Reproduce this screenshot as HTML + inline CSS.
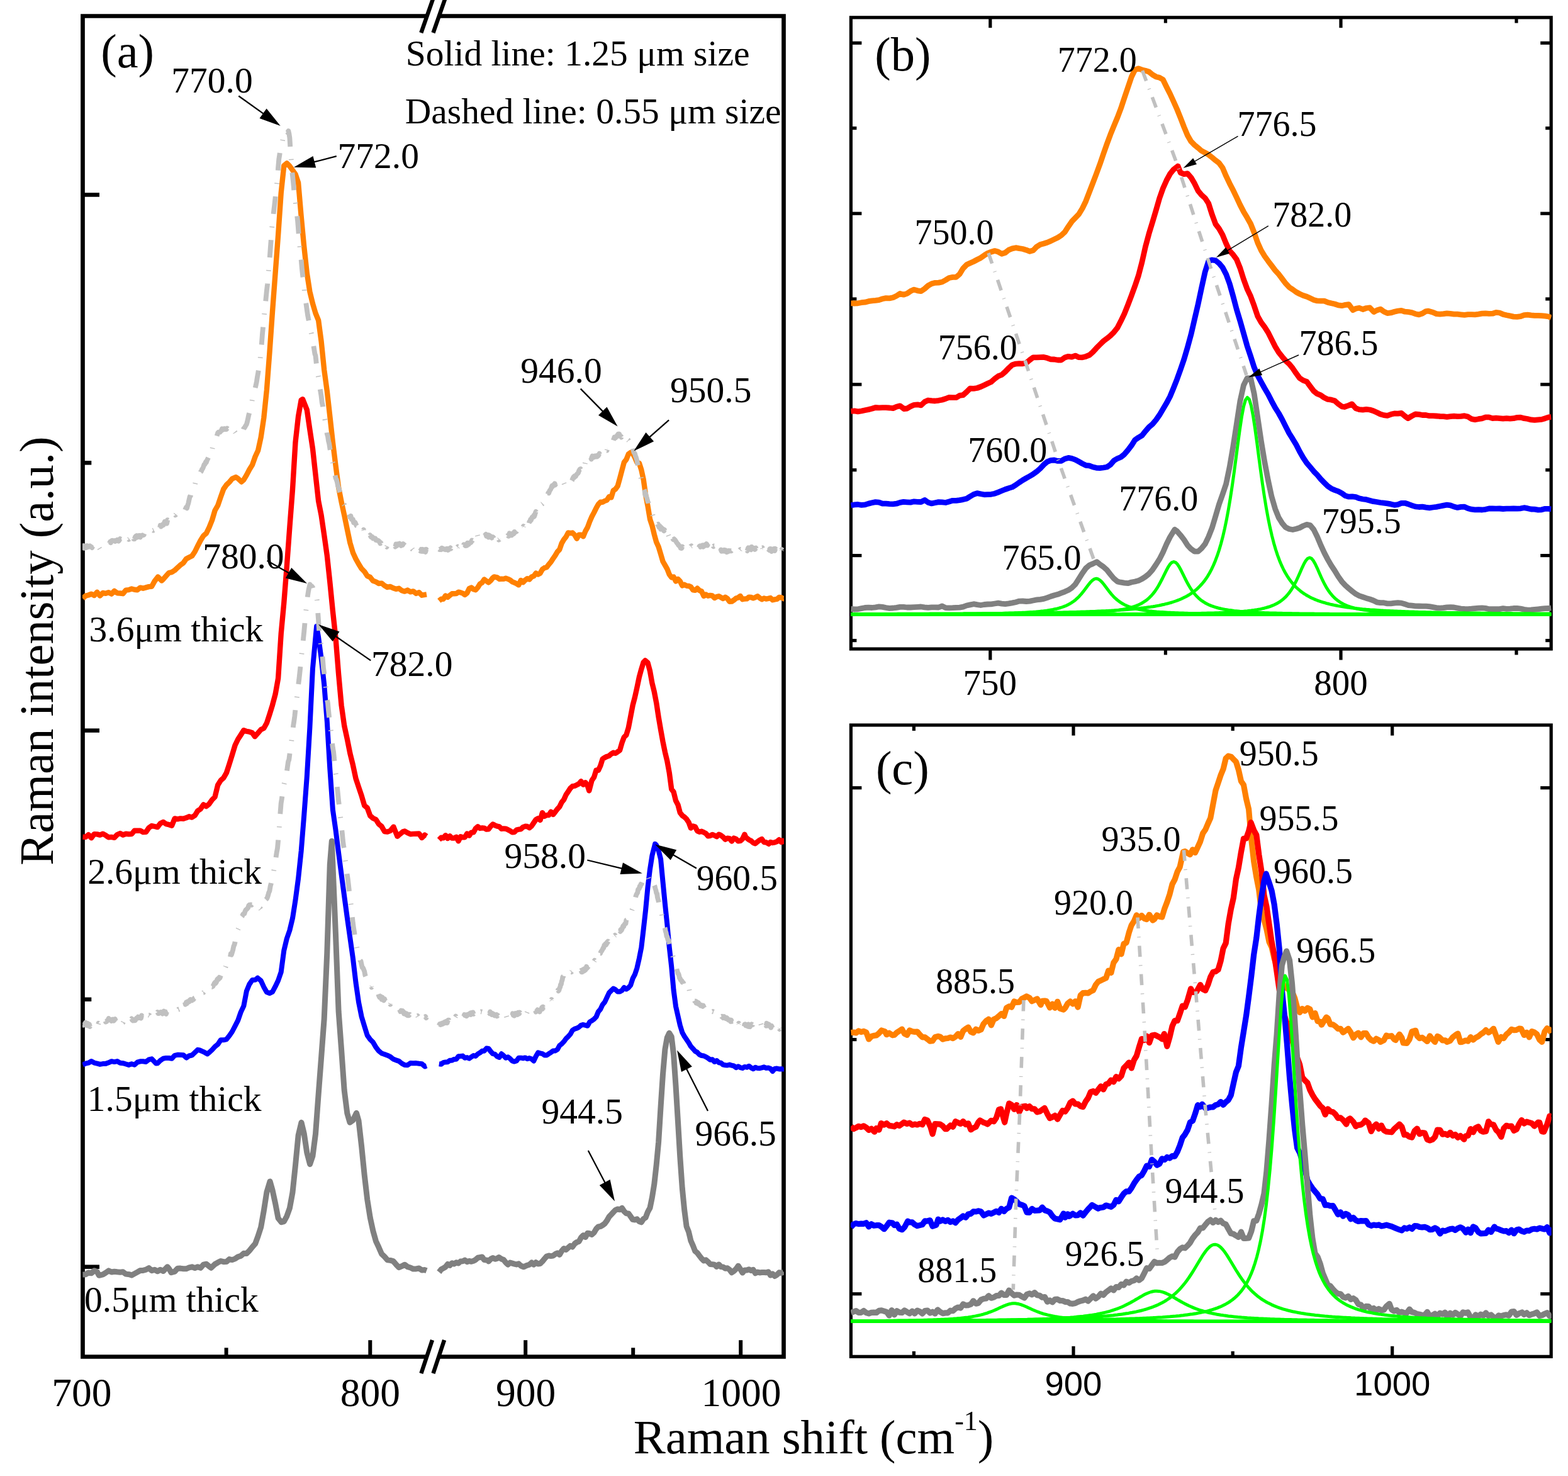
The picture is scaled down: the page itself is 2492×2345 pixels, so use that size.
<!DOCTYPE html>
<html lang="en"><head><meta charset="utf-8"><title>Raman spectra</title>
<style>html,body{margin:0;padding:0;background:#fff}svg{display:block}text{white-space:pre;font-family:"Liberation Serif",serif}text.ss{font-family:"Liberation Sans",sans-serif}</style></head>
<body>
<svg xmlns="http://www.w3.org/2000/svg" width="2492" height="2345" viewBox="0 0 2492 2345">
<rect width="2492" height="2345" fill="#fff"/>
<defs><clipPath id="ca"><rect x="131" y="25.5" width="1115" height="2130"/></clipPath>
<clipPath id="cb"><rect x="1351.9" y="27.8" width="1113.8" height="1003.2"/></clipPath>
<clipPath id="cc"><rect x="1351.9" y="1152" width="1113.8" height="1003.3"/></clipPath></defs>
<g id="panel-a-frame" stroke="#000" stroke-width="6.7" fill="none" stroke-linecap="butt">
<path d="M678.7,25.5 H131.5 V2155.5 H678.0 M697.4,2155.5 H1245.5 V25.5 H697.7" stroke-linejoin="miter"/>
<line x1="669.3" y1="52.1" x2="687.9" y2="-1.1000000000000014" stroke-width="6.4"/>
<line x1="688.5" y1="52.1" x2="707.1" y2="-1.1000000000000014" stroke-width="6.4"/>
<line x1="669.4" y1="2182.1" x2="687.0" y2="2128.9" stroke-width="6.4"/>
<line x1="688.5" y1="2182.1" x2="706.1" y2="2128.9" stroke-width="6.4"/>
<line x1="131.5" y1="309.5" x2="158" y2="309.5" stroke-width="6.5"/>
<line x1="131.5" y1="1160.6" x2="158" y2="1160.6" stroke-width="6.5"/>
<line x1="131.5" y1="2012.7" x2="158" y2="2012.7" stroke-width="6.5"/>
<line x1="131.5" y1="735.3" x2="145.3" y2="735.3" stroke-width="6.5"/>
<line x1="131.5" y1="1587.8" x2="145.3" y2="1587.8" stroke-width="6.5"/>
<line x1="588.3" y1="2155.5" x2="588.3" y2="2129.2" stroke-width="6"/>
<line x1="835.2" y1="2155.5" x2="835.2" y2="2129.2" stroke-width="6"/>
<line x1="1177.2" y1="2155.5" x2="1177.2" y2="2129.2" stroke-width="6"/>
<line x1="359.6" y1="2155.5" x2="359.6" y2="2141.3" stroke-width="6"/>
<line x1="1006.2" y1="2155.5" x2="1006.2" y2="2141.3" stroke-width="6"/>
</g>
<g id="panel-b-frame" stroke="#000" stroke-width="5.2" fill="none">
<rect x="1352.4" y="27.8" width="1112.8" height="1003.2"/>
<line x1="1352.4" y1="68.3" x2="1369.4" y2="68.3"/><line x1="2465.2" y1="68.3" x2="2448.2" y2="68.3"/>
<line x1="1352.4" y1="339.2" x2="1369.4" y2="339.2"/><line x1="2465.2" y1="339.2" x2="2448.2" y2="339.2"/>
<line x1="1352.4" y1="610.8" x2="1369.4" y2="610.8"/><line x1="2465.2" y1="610.8" x2="2448.2" y2="610.8"/>
<line x1="1352.4" y1="882.6" x2="1369.4" y2="882.6"/><line x1="2465.2" y1="882.6" x2="2448.2" y2="882.6"/>
<line x1="1352.4" y1="203.6" x2="1361.4" y2="203.6"/><line x1="2465.2" y1="203.6" x2="2456.2" y2="203.6"/>
<line x1="1352.4" y1="475" x2="1361.4" y2="475"/><line x1="2465.2" y1="475" x2="2456.2" y2="475"/>
<line x1="1352.4" y1="746.7" x2="1361.4" y2="746.7"/><line x1="2465.2" y1="746.7" x2="2456.2" y2="746.7"/>
<line x1="1352.4" y1="1017.6" x2="1361.4" y2="1017.6"/><line x1="2465.2" y1="1017.6" x2="2456.2" y2="1017.6"/>
<line x1="1573.8" y1="27.8" x2="1573.8" y2="44.2"/><line x1="1573.8" y1="1031.0" x2="1573.8" y2="1048.5"/>
<line x1="2131.0" y1="27.8" x2="2131.0" y2="44.2"/><line x1="2131.0" y1="1031.0" x2="2131.0" y2="1048.5"/>
<line x1="1852.4" y1="27.8" x2="1852.4" y2="36.6"/><line x1="1852.4" y1="1031.0" x2="1852.4" y2="1040.4"/>
<line x1="2410.0" y1="27.8" x2="2410.0" y2="36.6"/><line x1="2410.0" y1="1031.0" x2="2410.0" y2="1040.4"/>
</g>
<g id="panel-c-frame" stroke="#000" stroke-width="5.2" fill="none">
<rect x="1352.4" y="1152.0" width="1112.8" height="1003.3"/>
<line x1="1352.4" y1="1251.7" x2="1369.4" y2="1251.7"/><line x1="2465.2" y1="1251.7" x2="2448.2" y2="1251.7"/>
<line x1="1352.4" y1="2055.7" x2="1369.4" y2="2055.7"/><line x1="2465.2" y1="2055.7" x2="2448.2" y2="2055.7"/>
<line x1="1352.4" y1="1651.6" x2="1361.4" y2="1651.6"/><line x1="2465.2" y1="1651.6" x2="2456.2" y2="1651.6"/>
<line x1="1706.0" y1="1152.0" x2="1706.0" y2="1168.6"/><line x1="1706.0" y1="2155.3" x2="1706.0" y2="2138.8"/>
<line x1="2212.7" y1="1152.0" x2="2212.7" y2="1168.6"/><line x1="2212.7" y1="2155.3" x2="2212.7" y2="2138.8"/>
<line x1="1452.4" y1="1152.0" x2="1452.4" y2="1161.0"/><line x1="1452.4" y1="2155.3" x2="1452.4" y2="2146.8"/>
<line x1="1959.2" y1="1152.0" x2="1959.2" y2="1161.0"/><line x1="1959.2" y1="2155.3" x2="1959.2" y2="2146.8"/>
</g>
<g id="panel-a-curves" clip-path="url(#ca)" fill="none" stroke-linejoin="round">
<path d="M131.5,950.7 136.1,946.6 140.6,945.5 145.2,943.6 149.8,946 154.3,940.8 158.9,946.5 163.5,942 168,942.8 172.6,941.2 177.2,943.6 181.7,938.8 186.3,942.2 190.9,942.5 195.5,943.2 200,937.6 204.6,937.1 209.2,935.5 213.7,936.7 218.3,937.2 222.9,933.6 227.4,934.7 232,933.4 236.6,932.1 241.1,931.7 245.7,923.4 251,916.5 257,922.6 259.4,920.2 264,915 268.5,910 273.1,909.1 277.7,906.1 282.2,901.8 286.8,897.7 291.4,894.3 295.9,888 300.5,885.5 305.1,883.3 309.7,876.5 314.2,867.4 318.8,858.5 323.4,851.1 327.9,847.3 332.5,837.7 337.1,826.2 341.6,811 346.2,803 350.8,789.5 355.3,777 359.9,770.4 364.5,766 369,760.6 374.8,758 378.2,760.2 383.8,765.5 387.3,762.3 391.9,754.6 396.4,746 401,738.6 405.6,725.5 410.1,715.8 414.7,694.7 419.3,664 423.9,619.4 428.4,560.7 433,495.1 437.6,433.6 442.1,373.7 446.7,306.6 451.3,263.2 455.8,259.3 460.4,264 465,270.4 469.5,276.6 474.1,290.3 478.7,344 483.2,391.4 487.8,434 492.4,463.4 496.9,482 501.5,497.6 506.1,508.9 510.6,542.4 515.2,587.5 519.8,621.2 524.3,661.2 528.9,702.7 533.5,739.6 538.1,774.4 542.6,797.4 547.2,818.6 551.8,840.9 556.3,862.4 560.9,877.9 565.5,887.9 570,896.1 574.6,903.4 579.2,908.1 583.7,915.1 588.3,917 592.9,922.8 597.4,924.4 602,927 606.6,926.6 611.1,930.4 615.7,933 620.3,931.9 624.8,934.2 629.4,935.9 634,934.8 638.5,938.3 643.1,939.6 647.7,937.6 652.3,940.4 656.8,939.4 661.4,942.9 666,941.3 670.5,945.7 675.1,944.8 678,944.3" stroke="#ff8000" stroke-width="8.4" />
<path d="M697.8,954.6 701.2,951.8 704.6,951.8 708.1,946.4 711.5,948.8 714.9,945.8 718.3,943.3 721.7,943.2 725.2,943.1 728.6,940.6 732,941.4 735.4,942.6 738.8,944.9 742.3,942.1 745.7,935.1 749.1,933.5 752.5,936.3 755.9,937.2 759.4,933.2 762.8,927.8 766.2,925.6 769.6,920.5 773,923.1 776.5,925.4 779.9,922.4 783.3,917.9 785.3,916.5 790.1,917.3 793.6,920 797,919.8 800.4,919.9 803.8,918.7 807.2,919.9 810.7,921.5 814.1,924.3 817.5,925.6 820.9,927.2 824.3,929.4 827.8,922 831.2,925.4 834.6,921.7 838,919.3 841.4,920.5 844.9,916.4 848.3,915.3 851.7,910.7 855.1,912.6 858.5,910.8 862,904.5 865.4,902.1 868.8,901.2 872.2,896.7 875.6,892.8 879.1,887.3 882.5,882.4 885.9,876.6 889.3,873 892.7,863.1 896.2,857.1 899.6,852.9 903,846.4 907.6,847.1 909.8,846.4 913.3,849.9 916.7,855.7 920.1,849.7 923.5,849.6 926.9,852.3 930.4,843.8 933.8,837.9 937.2,828.6 940.6,820.8 944,814.4 947.5,807.3 950.9,801.2 954.3,797.8 957.7,797.7 961.1,795.9 964.6,794.6 968,789.3 971.4,790.4 974.8,779.3 978.2,777.1 981.7,772.1 985.1,759.9 988.5,747 991.9,734.4 995.3,730.2 998.8,721.5 1002.7,718.7 1005.6,720.7 1009,726.8 1012.4,734.9 1015.9,735.8 1019.3,746.4 1022.7,762 1026.1,786.2 1029.5,803.9 1033,824.9 1036.4,835.1 1039.8,849.1 1043.2,861.3 1046.6,868.8 1050.1,880.4 1053.5,892 1056.9,897.9 1060.3,903.8 1063.7,912.6 1067.2,917.4 1070.6,916.5 1074,923.5 1077.4,919.9 1080.8,923.4 1084.3,930.5 1087.7,928.8 1091.1,930.7 1094.5,931 1097.9,932.4 1101.4,937.4 1104.8,937.9 1108.2,934.7 1111.6,938.1 1115,939.5 1118.5,947 1121.9,944.5 1125.3,946.7 1128.7,945.9 1132.1,946.5 1135.6,950 1139,948.1 1142.4,947.2 1145.8,949.1 1149.2,951.1 1152.7,948.7 1156.1,951 1159.5,955.8 1162.9,955.6 1166.3,953.4 1169.8,950.5 1173.2,949.5 1176.6,947 1180,952.2 1183.4,951.5 1186.9,951.4 1190.3,948.6 1193.7,949 1197.1,950.4 1200.5,949.1 1204,947.3 1207.4,950.1 1210.8,952.2 1214.2,950.4 1217.6,951.6 1221.1,950.9 1224.5,950 1227.9,953.3 1231.3,952.4 1234.7,951.9 1238.2,949 1241.6,949.3 1245,951.1 1245.5,950.5" stroke="#ff8000" stroke-width="8.4" />
<path d="M131.5,1329.6 136.1,1329.9 140.6,1326.1 145.2,1331.3 149.8,1325.1 154.3,1325.4 158.9,1326.6 163.5,1324.7 168,1327.2 172.5,1330.3 177.2,1329.9 181.7,1330.8 186.3,1326 190.9,1324 195.5,1326.5 200,1324.8 204.6,1325.3 209.2,1325.1 213.7,1319.8 218.3,1319.8 222.9,1319.6 227.4,1322.1 232,1321.9 236.6,1315.1 241.1,1312 245.7,1313 250.3,1314.1 254.8,1308.2 259.4,1305.9 264,1309.2 268.5,1310.2 273.1,1311.7 277.7,1300.4 282.2,1301.4 286.8,1300.4 291.4,1300.8 295.9,1299.3 300.5,1297.3 305.1,1298.6 309.7,1295.6 314.2,1288.2 318.8,1285.2 323.4,1278.4 327.9,1281.1 332.5,1277.2 337.1,1270.6 341.6,1266.1 346.2,1247.3 350.8,1239.9 355.3,1235.8 359.9,1227.9 364.5,1213.8 369,1199.2 373.6,1184 378.2,1174.5 382.7,1167.6 387.3,1160.2 391.9,1161.9 396.4,1162.7 401,1164.3 405,1170.2 410.1,1164.5 414.7,1159.1 419.3,1157 423.9,1148.7 428.4,1135.1 433,1120.2 437.6,1102.9 442.1,1077.7 446.7,1006.9 451.3,957.3 455.8,900.2 460.4,837.4 465,777.4 469.5,702.6 474.1,661.5 478.7,635.6 481.1,634.2 487.8,651.1 492.4,682.6 496.9,712.3 501.5,754.1 506.1,795.9 510.6,818.6 515.2,850 519.8,882.6 524.3,924.7 528.9,971 533.5,1013.5 538.1,1071 542.6,1120.5 547.2,1153 551.8,1174.2 556.3,1196.8 560.9,1215.3 565.5,1236.9 570,1250.5 574.6,1264.1 579.2,1279.8 583.7,1283.5 588.3,1296 592.9,1300 597.4,1302.1 602,1309.3 606.6,1313.1 611.1,1321 615.7,1321.6 620.3,1319.8 625.4,1313.6 631.5,1328.7 634,1326.6 640.5,1321.2 643.1,1320.5 647.7,1323.1 652.3,1325.3 656.8,1324.9 661.4,1324.7 666,1324.5 670.5,1331 675.1,1326.6 678,1328.6" stroke="#ff0000" stroke-width="8.4" />
<path d="M697.8,1334.2 701.2,1330.7 704.6,1331.4 708.1,1327.1 711.5,1332 714.9,1328.2 718.3,1331.6 721.7,1331.5 725.2,1329.8 728.6,1336.3 732,1329.2 735.4,1330.3 738.8,1330.2 742.3,1324.4 745.7,1327.6 749.1,1322.6 752.5,1322.4 755.9,1316.2 759.4,1313.3 762.8,1316 766.2,1315.3 769.6,1315.7 773,1317.6 776.5,1317.3 779.9,1312.7 783.3,1309.5 786.7,1311.3 790.1,1312.7 793.6,1313.4 797,1316.8 800.4,1316.4 803.8,1316.7 807.2,1318.2 810.7,1320 814.1,1322.2 817.5,1322 820.9,1318.6 824.3,1317.7 827.8,1317.3 831.2,1314.1 834.6,1312.8 838,1313 841.4,1315.2 844.9,1312.3 848.3,1307.1 851.7,1302.1 855.1,1300.3 858.5,1303 862,1291.2 865.4,1296.9 868.8,1295.1 872.2,1295.1 875.6,1289.7 879.1,1294 882.5,1289.8 885.9,1285.3 889.3,1281.6 892.7,1274.6 896.2,1270.3 899.6,1262.6 903,1257.6 906.4,1252.4 909.8,1249.2 913.3,1248.7 916.7,1247 920.1,1245.2 923.5,1241.3 926.9,1246.6 930.4,1243.1 933.8,1248.4 936.3,1256.3 940.6,1239.8 944,1234.9 947.5,1223.8 950.9,1223.9 954.3,1216.5 957.7,1205.7 961.1,1203.6 964.6,1201.9 968,1200.8 971.4,1197.9 974.8,1195.7 978.2,1196.7 981.7,1194.4 985.1,1191.8 988.5,1180.1 991.9,1171.1 995.3,1167.7 998.8,1156.3 1002.2,1138.4 1005.6,1120.6 1009,1107.6 1012.4,1092.3 1015.9,1075.7 1019.3,1063.2 1022.7,1052.1 1025.4,1049.4 1029.5,1053 1033,1066.2 1036.4,1085.2 1039.8,1099.1 1043.2,1116.7 1046.6,1139.2 1050.1,1159.5 1053.5,1178.3 1056.9,1194.9 1060.3,1208.9 1063.7,1227.4 1067.2,1253.7 1070.6,1258.3 1074,1272.1 1077.4,1278.4 1080.8,1291.2 1084.3,1295.7 1087.7,1298 1091.1,1301.3 1094.5,1306.3 1097.9,1315.5 1101.4,1312.5 1104.8,1313.5 1108.2,1320.1 1111.6,1321.7 1115,1320.8 1118.5,1322.4 1121.9,1324.2 1125.3,1328.3 1128.7,1327.8 1132.1,1325.9 1135.6,1327.3 1139,1329.2 1142.4,1325.7 1145.8,1327.2 1149.2,1329.9 1152.7,1333.7 1156.1,1331.6 1159.5,1332.1 1162.9,1336.5 1166.3,1331.6 1169.8,1332.9 1173.2,1336.4 1176.6,1335.9 1180,1333.1 1183.4,1325.7 1185.4,1330.3 1190.3,1334.3 1193.7,1335.9 1197.1,1339 1200.5,1340.2 1204,1337.1 1207.4,1334.7 1210.8,1333 1214.2,1338 1217.6,1338.2 1221.7,1340.8 1224.5,1337.9 1227.9,1339 1231.3,1338.3 1234.7,1337.1 1238.2,1334.2 1241.6,1338 1245,1336.9 1245.5,1331.6" stroke="#ff0000" stroke-width="8.4" />
<path d="M131.5,2024.9 136.1,2024.8 140.6,2021.9 145.2,2022.7 149.8,2018.8 154.3,2020.6 157.4,2026.3 163.5,2024.8 168,2022.1 172.6,2018.9 177.2,2021 181.7,2020.2 186.3,2020.8 190.9,2021.2 195.5,2020.8 200,2024.1 205.7,2024.8 209.2,2026 213.7,2023.6 218.3,2021.1 222.9,2018.5 227.4,2018.4 232,2017.2 236.6,2014.6 241.1,2018.6 245.7,2017.3 250.3,2019.8 254.8,2017.2 259.4,2019.5 266.1,2012.7 268.5,2015.4 272.1,2021.8 277.7,2020.1 282.2,2015.2 286.8,2015.1 291.4,2015.7 295.9,2015.8 300.5,2013.9 305.1,2012.8 309.7,2014.6 314.2,2012.7 318.8,2014.4 323.4,2009.1 328,2008.2 332.5,2011.9 335.5,2014.3 341.6,2008.5 346.2,2005.8 350.8,2003.5 355.3,2004.7 359.9,2004.6 364.5,2000.6 369,2001.6 373.6,1999.9 378.2,1996.7 382.7,1995.4 387.3,1991.3 391.9,1991.4 396.4,1987.1 401,1981.2 405.6,1976.1 410.1,1963.9 414.7,1949.6 419.3,1923.6 423.9,1894.1 429.1,1876.9 433,1890.8 437.6,1912 442.1,1935.5 447.3,1941.8 451.3,1940.6 455.8,1932.3 460.4,1919.5 465,1894.4 469.5,1851.4 474.1,1803.9 479,1783.3 483.2,1800.7 487.8,1831.4 492.6,1849.7 496.9,1836.8 501.5,1801.7 506.1,1739 510.6,1680.2 515.2,1618.6 519.8,1513.8 524.3,1373.5 527.3,1336.3 533.5,1485.5 538.1,1606.7 542.6,1667.6 547.2,1732.3 551.8,1768.8 556,1783.3 560.9,1779.8 566.5,1768.2 570,1780.4 574.6,1820.9 579.2,1866.7 583.7,1905.6 588.3,1934.6 592.9,1955.7 597.4,1971.8 602,1981.7 606.6,1992.3 611.1,1996.6 615.7,2001.8 620.3,2002.4 624.8,2003.6 629.4,2008.8 634,2013.7 638.5,2011.7 643.1,2009.2 647.7,2012.7 652.3,2014 656.8,2016.1 661.4,2015.9 666,2015 670.5,2018 675.1,2017.6 678,2018.7" stroke="#808080" stroke-width="9.0" />
<path d="M697.8,2021.1 701.2,2016.8 704.6,2014.9 708.1,2012.8 711.5,2008.4 714.9,2010.4 718.3,2006.7 721.7,2008.1 725.2,2005.7 728.6,2007 732,2004 735.4,2003.7 738.8,2002.1 742.3,2004.7 745.7,2003.4 749.1,2004.3 752.5,2003.2 755.9,2001.4 759.4,1998.2 762.7,1997.6 766.2,1997 769.6,2001.6 774.7,2002.2 776.5,2003.9 779.9,2000.3 783.3,1998.6 786.7,2000.3 790.1,1999.4 792.9,1997.6 797,2000.2 800.4,2001.4 803.8,2005.8 807.2,2009.1 810.7,2006.1 814.1,2007.1 817.5,2008.1 820.9,2008.9 824.3,2007.9 827.8,2011 832.1,2012.7 834.6,2011.7 838,2010.2 841.4,2009.1 844.9,2006 848.3,2009.1 851.7,2005.7 855.1,2008 858.5,2007.5 862,2004.1 865.4,1999.9 868.8,1996 872.2,1995 875.6,1995.6 879.1,1995.1 882.5,1992.4 885.9,1990.9 889.3,1993.4 892.7,1987.5 896.2,1983.6 899.6,1985.4 903,1982.3 906.4,1979.3 909.8,1981 913.3,1976 916.7,1973.5 920.1,1972.4 923.5,1966.2 926.9,1962.7 930.4,1965.6 933.8,1959.2 937.2,1959.8 940.6,1961.5 944,1958.5 947.5,1952.5 950.9,1949 954.3,1948.5 957.7,1946.5 961.1,1944 964.6,1939.3 968,1933.2 971.4,1929.6 974.8,1925.9 978.2,1922.4 981.7,1921 985.1,1921.8 988.5,1919.3 991.9,1924.5 995.3,1927.7 998.8,1927.9 1002.2,1932.7 1005.6,1937.6 1009,1937.9 1012.4,1936.9 1015.9,1940.5 1019.3,1941.8 1022.7,1936.5 1026.1,1934.4 1029.5,1925.4 1033,1919 1036.4,1902.4 1039.8,1881.3 1043.2,1850.7 1046.6,1814.6 1050.1,1758.1 1053.5,1706.7 1056.9,1667.3 1060.3,1648.4 1063.7,1641.3 1067.2,1647.1 1070.6,1675.6 1074,1724.6 1077.4,1781 1080.8,1838.1 1084.3,1887.8 1087.7,1922.4 1091.1,1948.5 1094.5,1957 1097.9,1971.2 1101.4,1979.1 1104.8,1987.8 1108.2,1990.5 1111.6,1995.1 1115,1999.5 1118.5,2002.9 1121.9,2001.8 1125.3,2004.8 1128.7,2008.5 1132.1,2008.8 1135.6,2009.2 1139,2012.4 1142.4,2008.9 1145.8,2012.6 1149.2,2012.9 1152.7,2015.2 1156.1,2014.7 1159.5,2017.3 1162.9,2021.7 1166.3,2019.5 1169.8,2016.1 1173.3,2011.2 1176.6,2016.2 1180,2022.1 1183.4,2017.9 1186.9,2017.9 1190.3,2016.7 1193.7,2018.6 1197.1,2017.3 1200.5,2022.8 1204,2021 1207.4,2021.9 1210.8,2021.6 1214.2,2021.6 1217.6,2021.8 1221.1,2020.7 1224.5,2026.1 1227.9,2023.9 1231.3,2027.5 1234.7,2025.4 1238.2,2021.8 1241.6,2022.4 1245,2021.4 1245.5,2021" stroke="#808080" stroke-width="9.0" />
<path d="M131.5,1691.7 136.1,1689.7 140.6,1688.7 145.2,1686.1 149.8,1688.6 154.3,1689.6 158.9,1690.9 163.5,1690.1 168,1689.9 172.6,1688.3 177.2,1686.2 181.7,1687.1 186.3,1686.1 190.9,1688.7 195.5,1689.2 200,1690.5 204.6,1691.9 209.2,1690.3 213.7,1691.7 218.3,1687.7 222.9,1686.3 227.4,1686.3 232,1687 236.6,1683.3 241.1,1682.3 248,1689.6 250.3,1689.3 254.8,1684.9 259.4,1681.8 264,1680.9 268.5,1681 273.1,1681.7 277.7,1676.8 282.2,1675.8 286.8,1675.9 291.4,1676.2 296.3,1680.6 300.5,1677.5 305.1,1676.5 309.7,1672.2 314.2,1667.8 317.4,1668.5 323.4,1671.1 329.5,1674.5 332.5,1672.2 337.1,1667.9 341.6,1662.9 346.2,1659.2 350.8,1652.3 355.3,1652.3 359.9,1651.3 364.5,1645.6 369,1639 373.6,1630.2 378.2,1621.1 382.7,1608.1 387.3,1598.4 391.9,1574.6 396.4,1563.6 401,1557 405.6,1556.8 409.5,1553.7 414.7,1558.1 419.3,1568.2 423.9,1576.3 428.4,1578 433,1575.9 437.6,1567.2 442.1,1557.7 446.7,1544.4 451.3,1510 455.8,1491.2 460.4,1478 465,1458.8 469.5,1430.2 474.1,1395.6 478.7,1351.8 483.2,1295.7 487.8,1233.7 492.4,1155.8 496.9,1063 503.1,995 506.1,1012.2 510.6,1046 515.2,1087.5 519.8,1146.3 524.3,1221.3 528.9,1286.6 533.5,1318.8 538.1,1354.9 542.6,1389.6 547.2,1423.9 551.8,1457.9 556.3,1489.8 560.9,1522.2 565.5,1561.1 570,1592.3 574.6,1615.1 579.2,1630.4 583.7,1644.9 588.3,1651.4 592.9,1655.9 597.4,1663.8 602,1669.7 606.6,1673.5 611.1,1675 615.7,1676.7 620.3,1678.8 624.8,1682.5 629.4,1684.4 634,1685.8 638.5,1689.5 643.1,1692.1 647.7,1692.3 652.3,1689 656.8,1689.3 661.4,1689.1 666,1689.8 670.5,1690.2 675.1,1694.4 678,1693.3" stroke="#0000ff" stroke-width="8.0" />
<path d="M697.8,1690.2 701.2,1690.7 704.6,1688.1 708.1,1687.4 711.5,1687.3 714.9,1684.8 718.3,1684.7 721.7,1682.9 725.2,1682.7 728.6,1678.3 732,1678 735.4,1677.6 738.8,1680.7 742.3,1680.1 745.7,1681.6 749.1,1679.3 752.5,1677 755.9,1677.9 759.4,1674.5 762.8,1672.6 766.2,1669.8 769.6,1669.7 773.2,1665.5 776.5,1666 779.9,1670.5 783.3,1674.2 786.7,1674.9 790.1,1678.6 793.6,1679.9 797,1674.3 800.4,1677.1 803.8,1680.8 807.2,1679.3 810.7,1681.9 814.1,1685.5 817,1686.6 820.9,1685.5 824.3,1680.7 827.8,1680.7 831.2,1681.4 834.6,1680.4 838,1682.2 841.4,1681.1 844.9,1682.5 848.3,1685.5 851.7,1678.3 855.1,1672.4 858.5,1673.4 862,1674.1 865.4,1676.5 868.8,1676.6 872.2,1674.2 875.6,1672.1 879.1,1669.6 882.5,1669.4 885.9,1667.3 889.3,1661.1 892.7,1658.5 896.2,1654.8 899.6,1650.2 903,1646.8 906.4,1643.1 909.8,1636.8 913.3,1634.6 916.7,1633.6 920.1,1631.9 923.5,1628.8 926.9,1628 930.4,1628.9 933.8,1629.8 937.2,1623.7 940.6,1621.6 944,1619.3 947.5,1615.6 950.9,1607.4 954.3,1603.4 957.7,1596.1 961.1,1592.2 964.6,1584.6 968,1577.4 971.4,1573.9 974.8,1570.6 978.2,1572.4 981.7,1575.6 985.1,1575.5 988.5,1573.6 991.9,1568.9 995.3,1571.5 998.8,1569.3 1002.2,1565.2 1005.6,1554.7 1009,1548.2 1012.4,1537.9 1015.9,1522.6 1019.3,1505.3 1022.7,1476.3 1026.1,1445.7 1029.5,1409.7 1033,1381.1 1036.4,1359.3 1041.1,1340.8 1043.2,1342.7 1046.6,1351.2 1050.1,1365.1 1053.5,1400.8 1056.9,1435.8 1060.3,1468.1 1063.7,1504.5 1067.2,1535.7 1070.6,1573.3 1074,1598.8 1077.4,1613.8 1080.8,1628.9 1084.3,1640.3 1087.7,1646.5 1091.1,1651.5 1094.5,1656.6 1097.9,1662.4 1101.4,1666.2 1104.8,1670.1 1108.2,1671.9 1111.6,1675.5 1115,1677 1118.5,1677.5 1121.9,1679.1 1125.3,1681.2 1128.7,1683.7 1132.1,1683.2 1135.6,1687 1139,1685 1142.4,1688.2 1145.8,1688.7 1149.2,1691.6 1152.7,1692.2 1156.1,1692.5 1159.5,1691.6 1162.9,1692.7 1166.3,1693.5 1169.8,1696.2 1173.2,1694.2 1176.6,1696.1 1180,1697 1183.4,1694.9 1186.9,1695.7 1190.3,1693.7 1193.7,1696.4 1197.1,1698.2 1200.5,1695.7 1204,1697.1 1207.4,1697.2 1210.8,1696.3 1214.2,1695.3 1217.6,1696.9 1221.1,1696.5 1224.5,1697.7 1227.9,1702 1231.3,1697.9 1234.7,1697.5 1238.2,1698.4 1241.6,1698.2 1245,1698.4 1245.5,1696.2" stroke="#0000ff" stroke-width="8.0" />
<path d="M131.5,868.1 132.6,867.2 133.8,870.7 134.9,867.5 136.1,868 137.2,870 138.4,867 139.5,867.6 140.6,868.7 141.8,868.3 142.9,867.4 144.1,868.8 145.2,868.8 146.3,870.2 147.5,867.6 148.6,869 149.8,871.5 150.9,872.6 152.1,868.5 153.2,871.4 154.3,869.5 155.5,869.8 156.6,869.9 157.8,870.6 158.9,872.4 160.1,872.1 161.2,871.1 162.3,870.2 163.5,870.1 164.6,869.3 165.8,869.6 166.9,867 168,866.8 169.2,865.7 170.3,864.7 171.5,864.1 172.6,863 173.8,863.5 174.9,860.9 176,862.2 177.2,859.3 178.3,858.6 179.5,859.1 180.6,859.2 181.7,859 182.9,860.1 184,859.7 185.2,858.8 186.3,857.6 187.5,857.8 188.6,859.6 189.7,858 190.9,856 192,856.7 193.2,856.7 194.3,858.8 195.5,857.1 196.6,860 197.7,857.9 198.9,857.1 200,856.3 201.2,857.9 202.3,856.3 203.4,855.4 204.6,857 205.7,856.1 206.9,857.4 208,855.5 209.2,851.7 210.3,856 211.4,852.4 212.6,856.3 213.7,856.3 214.9,853.1 216,851.8 217.1,851.1 218.3,853.6 219.4,851.8 220.6,850.9 221.7,850.9 222.9,853.4 224,850.8 225.1,850.8 226.3,850.4 227.4,850.3 228.6,849.9 229.7,847.2 230.9,847.3 232,846.2 233.1,845.8 234.3,847.6 235.4,845.1 236.6,845.2 237.7,843.9 238.8,843.5 240,844.7 241.1,842.7 242.3,842.1 243.4,842.8 244.6,842.2 245.7,842 246.8,840.7 248,837.7 249.1,840.1 250.3,839.4 251.4,839.4 252.6,836.5 253.7,840 254.8,834.7 256,836.5 257.1,835 258.3,833.5 259.4,834.4 260.5,832.2 261.7,828.7 262.8,829.3 264,830.4 265.1,831.7 266.3,826.1 267.4,826.9 268.5,827.8 269.7,825.8 270.8,823.6 272,821.3 273.1,820 274.2,820.3 275.4,819.9 276.5,816.7 277.7,816.6 278.8,818.3 280,816.8 281.1,815.7 282.2,815.6 283.4,814.6 284.5,816.2 285.7,816.6 286.8,816.6 288,814.4 289.1,813.8 290.2,814.1 291.4,813.8 292.5,812.7 293.7,811.6 294.8,808.4 295.9,806.1 297.1,807.4 298.2,803.1 299.4,799.4 300.5,794.1 301.7,789 302.8,787.9 303.9,782.5 305.1,777 306.2,776 307.4,773.3 308.5,771 309.7,770.8 310.8,765.7 311.9,761.9 313.1,761.4 314.2,758.4 315.4,757.7 316.5,755.2 317.6,753.2 318.8,749.9 319.9,748.9 321.1,745.5 322.2,744.5 323.4,741.3 324.5,738 325.6,737.8 326.8,734.1 327.9,734.6 329.1,731.1 330.2,728.9 331.4,726.1 332.5,723.6 333.6,718.3 334.8,720.4 335.9,715.3 337.1,714.6 338.2,709.5 339.3,706.9 340.5,703.5 341.6,699.2 342.8,697.1 343.9,694.9 345.1,691.1 346.2,687.7 347.3,686.7 348.5,686.5 349.6,686.6 350.8,685.2 351.9,683.6 353,681.2 354.2,682.9 355.3,681.3 356.7,681 357.6,682.2 358.8,682.1 359.9,682.2 361,680.5 362.2,681.6 363.3,680.7 364.5,683.6 365.6,684 366.8,685.7 367.9,685.3 369,685.2 370.2,688.8 371.3,685.4 372.5,685.5 373.6,686.8 374.7,688.6 375.9,687.8 377,687.9 377.8,688.5 379.3,689.9 380.5,686.8 381.6,685.5 382.7,685.8 383.9,683.9 385,683.5 386.2,684.2 387.3,680.7 388.4,679.8 389.6,677.9 390.7,675.9 391.9,674.1 393,670 394.2,664.7 395.3,659.4 396.4,655.6 397.6,651.8 398.7,645.8 399.9,640.9 401,634.1 402.2,633 403.3,625.1 404.4,620.5 405.6,616.6 406.7,611.8 407.9,606.2 409,598.9 410.1,592.9 411.3,585.5 412.4,576.3 413.6,569.7 414.7,558.3 415.9,545.4 417,530.5 418.1,519.5 419.3,507.3 420.4,495.9 421.6,484.9 422.7,473.3 423.9,461.3 425,452.1 426.1,437.7 427.3,426.6 428.4,413.8 429.6,396.6 430.7,381.9 431.8,365.1 433,353.2 434.1,343.7 435.3,333.8 436.4,324.7 437.6,313.6 438.7,304.2 439.8,294.3 441,282.8 442.1,266.2 443.3,252.7 444.4,245.9 445.5,236.1 446.7,232.7 447.8,226.4 449,224 450.1,218.2 451.3,216.8 452.4,212.2 453.5,212.8 454.7,212.6 455.8,208 457,210.3 458.4,208.1 459.3,211.8 460.4,219 461.5,236.8 462.7,252.5 463.8,268.8 465,279.2 466.1,289.7 467.2,302.2 468.4,309.9 469.5,321 470.7,329.1 471.8,339.8 473,350.2 474.1,364 475.2,379.8 476.4,390.4 477.5,402.8 478.7,413 479.8,425.9 481,437.2 482.1,443.9 483.2,454.6 484.4,468.8 485.5,476.1 486.7,484.3 487.8,492.3 488.9,500 490.1,506.3 491.2,511.4 492.4,520.5 493.5,524 494.7,528.9 495.8,535.3 496.9,542 498.1,548 499.2,554.7 500.4,562.3 501.5,565.1 502.6,575.8 503.8,585.6 504.9,592.9 506.1,599.1 507.2,606.9 508.4,616.8 509.5,622.5 510.6,629.5 511.8,639.9 512.9,644.5 514.1,653.2 515.2,659.6 516.4,666.9 517.5,672.8 518.6,679.9 519.8,689.3 520.9,692.9 522.1,700.8 523.2,705 524.3,712.2 525.5,718.3 526.6,722.1 527.8,731.3 528.9,735.3 530.1,742.5 531.2,745.2 532.3,752.7 533.5,759.6 534.6,761.8 535.8,765.5 536.9,771.2 538.1,774.9 539.2,778.4 540.3,782.4 541.5,785.6 542.6,790.4 543.8,792.8 544.9,795.5 546,800.6 547.2,802.2 548.3,808 549.5,806.7 550.6,808.4 551.8,810.8 552.9,814 554,814.7 555.2,816 556.3,821.5 557.5,819.8 558.6,825 559.8,825 560.9,825.2 562,830.2 563.2,829.4 564.3,829.8 565.5,832.5 566.6,835.2 567.7,835.6 568.9,836.9 570,839.1 571.2,838.2 572.3,839.5 573.5,839.7 574.6,839.1 575.7,841.7 576.9,844.9 578,841.6 579.2,846.3 580.3,845.9 581.4,845.3 582.6,847.3 583.7,850.3 584.9,848.2 586,850.7 587.2,851.9 588.3,850.2 589.4,852.9 590.6,853.6 591.7,853.1 592.9,855.4 594,854.8 595.2,855.4 596.3,855.3 597.4,858.1 598.6,857.9 599.7,858.6 600.9,858.7 602,859.3 603.1,860.8 604.3,863.5 605.4,862.4 606.6,865.9 607.7,865.2 608.9,865.5 610,864.3 611.1,868.7 612.3,864.7 613.4,867.4 614.6,868.8 615.7,866.4 616.8,865.7 618,866.5 619.1,867.6 620.3,868.1 621.4,867.1 622.6,864.9 623.7,865.3 624.8,866.3 626,864.4 627.1,865.6 628.3,868.6 629.4,864.4 630.6,867.1 631.7,864.4 632.8,865.1 634,865.3 635.1,863.5 636.3,865.2 637.4,866.9 638.5,866.1 639.7,866.1 640.8,864.2 642,865.3 643.1,866.1 644.3,867.2 645.4,868.6 646.5,866.4 647.7,870.5 648.8,868.8 650,869.7 651.1,869.3 652.3,871.5 653.4,872 654.5,871.3 655.7,873.1 656.8,874 658,873.6 659.1,875.2 660.2,873 661.4,875.3 662.5,874 663.7,874.7 664.8,871.9 666,874.4 667.1,874.2 668.2,875.4 669.4,872.8 670.5,875.9 671.7,872.9 672.8,875.9 673.9,875 675.1,873.3 676.2,876.9 677.4,872.7 678,874" stroke="#c0c0c0" stroke-width="7.8" stroke-dasharray="28 20 1.5 20" stroke-dashoffset="0"/>
<path d="M697.8,872.4 698.7,873.1 699.5,872.6 700.4,872.2 701.2,873 702.1,870.7 702.9,871.5 703.8,871.5 704.6,872.4 705.5,872.2 706.3,872.4 707.2,873 708.1,873.3 708.9,872.9 709.8,871.8 710.6,873 711.5,872 712.3,873.9 713.2,872.7 714,871.9 714.9,871.6 715.8,870.5 716.6,871.6 717.5,870 718.3,871.5 719.2,868.9 720,869.5 720.9,872.2 721.7,872.1 722.6,871.7 723.4,868 724.3,868.1 725.2,868 726,867.5 726.9,869.4 727.7,868.4 728.6,868.7 729.4,867.9 730.3,867.3 731.1,870.3 732,868.4 732.9,866.3 733.7,868.6 734.6,866.2 735.4,866.4 736.3,868 737.1,865.2 738,865.6 738.8,865.2 739.7,867.2 740.5,867.2 741.4,865 742.3,866.6 743.1,862.6 744,863.7 744.8,865 745.7,862.8 746.5,863 747.4,862.3 748.2,862.2 749.1,861 750,858.4 750.8,858.9 751.7,857.7 752.5,858.4 753.4,855 754.2,855.2 755.1,856.7 755.9,855 756.8,856.6 757.6,853 758.5,849.3 759.4,852.8 760.2,851.3 761.1,850.1 761.9,848.5 762.8,849.3 763.6,849.8 764.5,849.2 765.7,848.6 766.2,849.3 767.1,848.9 767.9,847.7 768.8,849.4 769.6,849.8 770.5,851.7 771.3,849.8 772.2,848.9 773,851.7 773.9,851.5 774.8,850.4 775.6,850 776.5,853.5 777.3,850.2 778.2,851.8 779,853.2 779.9,852.1 780.7,853.4 781.6,854.5 782.4,853.8 783.3,853.2 784.2,854.2 785,855.1 785.9,856.7 786.7,854.5 787.6,857.5 788.4,855 789.3,857.6 789.8,856.1 791,857.5 791.8,855.7 792.7,857.7 793.6,857 794.4,856.1 795.3,855.1 796.1,854.7 797,854.8 797.8,857.4 798.7,855 799.5,854.7 800.4,853.4 801.3,854 802.1,853 803,852.3 803.8,852.9 804.7,851.9 805.5,852.3 806.4,851.7 807.2,850.7 808.1,851.8 808.9,851.5 809.8,847.3 810.7,849.9 811.5,849.6 812.4,849.2 813.2,850.5 814.1,848.7 814.9,847.7 815.8,846.8 816.6,848 817.5,844.9 818.4,845.9 819.2,845.1 820.1,844.8 820.9,844.4 821.8,842.9 822.6,842.3 823.5,843 824.3,841.6 825.2,843.5 826,841.7 826.9,839.5 827.8,840.7 828.6,839.3 829.5,839.1 830.3,840 831.2,838.6 832,835.9 832.9,836.8 833.7,835.1 834.6,836.1 835.5,834.2 836.3,831.7 837.2,828.9 838,831.3 838.9,830.3 839.7,829.5 840.6,831.9 841.4,828.7 842.3,828.5 843.1,825.5 844,826.3 844.9,823.9 845.7,821.7 846.6,822 847.4,821.2 848.3,818.9 849.1,820.6 850,817.9 850.8,815 851.7,812.8 852.6,815.2 853.4,814 854.3,812.6 855.1,809.6 856,808.4 856.8,808.9 857.7,806.5 858.5,805.7 859.4,805.2 860.2,804.4 861.1,801.1 862,800.5 862.8,799.7 863.7,797.5 864.5,798 865.4,794.5 866.2,794.8 867.1,792.3 867.9,792.7 868.8,789.7 869.7,787.2 870.5,785.8 871.4,782.9 872.2,783.4 873.1,780.7 873.9,778.9 874.8,778 875.6,776.5 876.5,774 877.3,771.8 878.2,773.1 879.1,771.3 879.9,770 880.8,770.1 881.6,768.4 882.5,770.4 883.3,768.4 884.2,768.3 885,768.8 885.9,768.2 886.8,768.4 887.6,768.7 888.5,767.8 889.3,769.1 890.2,768.7 891,770.8 891.9,768.2 892.7,767.7 893.6,767.6 894.4,769.1 895.3,768.9 896.2,767.5 897,769.5 897.9,766.8 898.7,767.5 899.6,768.1 900.4,768.5 901.3,767.6 902.1,770 903,769.4 903.9,767.8 904.7,767.2 905.6,766.4 906.4,765.7 907.3,765.7 908.1,764.8 909,763.5 909.8,761.5 910.7,759.2 911.5,757.9 912.4,758.9 913.3,756 914.1,755.9 915,756.7 915.8,754.9 916.7,753.6 917.5,752.6 918.4,752.1 919.2,750.9 920.1,747.9 921,746.4 921.8,745.5 922.7,745 923.5,746.3 924.4,742.7 925.2,741.3 926.1,741 926.9,739.6 927.8,736.5 928.6,733.7 929.5,737.9 930.4,733.4 931.2,732.2 932.1,733.2 932.9,729.7 933.8,729.7 934.6,727.7 935.5,729.9 936.3,727.6 937.2,728.1 938.1,728.5 938.9,727.1 939.8,729.5 940.6,726.5 941.5,724.5 942.3,726.9 943.2,726.7 944,726.5 944.9,724.4 945.8,724.3 946.6,724.5 947.5,725.4 948.3,724 949.2,725.4 950,724.5 950.9,724.1 951.7,722.2 952.6,720.6 953.4,722.6 954.3,723.7 955.2,722.8 956,720.5 956.9,721.9 957.7,720.8 958.6,720.9 959.4,718.4 960.3,717.9 961.1,718 962,718.6 962.8,715.9 963.7,715.4 964.6,715.6 965.4,712.4 966.3,711.2 967.1,709.7 968,710.5 968.8,707.3 969.7,704.9 970.5,704.4 971.4,704.1 972.3,702.7 973.1,701.9 974,701.4 974.8,699.1 975.7,697.1 976.5,694.5 977.4,695.9 978.2,695.6 979.1,694.4 979.9,693.8 980.8,691.8 981.7,692.7 982.5,689.7 983.1,691.6 984.2,689.6 985.1,692.8 985.9,692.8 986.8,693.1 987.6,694.6 988.5,691.6 989.4,693.7 990.2,693.4 991.1,693.5 991.9,695.6 992.8,694.9 993.6,694.6 994.5,697.3 995.3,696.5 996.2,697.6 997,699.3 997.9,698.8 998.8,699.4 999.6,701 1000.5,703.2 1001.3,700.4 1002.2,705.6 1003,706.7 1003.9,708.2 1004.7,710.7 1005.6,711.1 1006.5,715.4 1007.3,718.6 1008.2,720 1009,720.7 1009.9,724.7 1010.7,726.2 1011.6,729.1 1012.4,732.1 1013.3,737.1 1014.1,740.8 1015,741.9 1015.9,746.5 1016.7,748 1017.6,751.7 1018.4,757.1 1019.3,761.7 1020.1,764.3 1021,763.7 1021.8,769.6 1022.7,773.8 1023.6,777.1 1024.4,779.1 1025.3,786.3 1026.1,783.8 1027,788.7 1027.8,790.4 1028.7,793.8 1029.5,796.9 1030.4,798.8 1031.2,802.4 1032.1,802.9 1033,806.1 1033.8,810.1 1034.7,810.6 1035.5,814.9 1036.4,816 1037.2,817.4 1038.1,820.8 1038.9,821.9 1039.8,826.5 1040.7,826.3 1041.5,829.3 1042.4,827.7 1043.2,831.2 1044.1,831.1 1044.9,833.1 1045.8,832.7 1046.6,835.7 1047.5,837.8 1048.3,835.5 1049.2,836.4 1050.1,840.7 1050.9,837.9 1051.8,839.9 1052.6,840.2 1053.5,840.1 1054.3,842.2 1055.2,843.4 1056,841.8 1056.9,846.4 1057.8,846 1058.6,843.6 1059.5,847.3 1060.3,850.4 1061.2,847.5 1062,849.3 1062.9,851.8 1063.7,847.8 1064.6,852.6 1065.4,854 1066.3,854.2 1067.2,851.7 1068,854.7 1068.9,854.3 1069.7,857 1070.6,857.3 1071.4,856.4 1072.3,857.8 1073.1,858 1074,859.7 1074.9,861 1075.7,862.6 1076.6,863.5 1077.4,864.1 1078.3,866.2 1079.1,866.5 1080,867.9 1080.8,867.8 1081.7,870.8 1082.5,871 1083.4,871 1084.3,868.4 1085.1,869.9 1086,869.2 1086.8,869.6 1087.7,870.1 1088.5,870.5 1089.4,868.5 1090.2,870.9 1091.1,870.9 1092,870.7 1092.8,868.6 1093.7,869.6 1094.5,869.3 1095.4,868.4 1096.2,868.2 1097.1,869 1097.9,867.9 1098.8,867.4 1099.6,868.6 1100.5,868.8 1101.4,869.8 1102.2,870.6 1103.1,867.3 1103.9,868.9 1104.8,869.3 1105.6,867.4 1106.5,868 1107.3,868.4 1108.2,868 1109.1,869.1 1109.9,870.1 1110.8,870.3 1111.6,867.8 1112.5,867.4 1113.3,868.9 1114.2,867.4 1115,867.4 1115.9,868.2 1116.8,866.2 1117.6,868.7 1118.5,866.5 1119.3,867.1 1120.2,865.9 1121,866.7 1121.9,865.3 1122.7,864 1123.6,865.2 1124.4,866.4 1125.3,863.9 1126.2,866.2 1127,867.4 1127.9,865 1128.7,866.2 1129.6,864.9 1130.4,866.3 1131.3,865 1132.1,863.1 1133,865.5 1133.8,868.2 1134.7,867.5 1135.6,867.7 1136.4,869.9 1137.3,869 1138.1,873.6 1139,871.6 1139.8,874.2 1140.7,874.7 1141.5,874.6 1142.4,874.1 1143.3,875.8 1144.1,875.7 1145,875.6 1145.8,873.5 1146.7,875.7 1147.5,875.5 1148.4,875.6 1149.2,875.5 1150.1,874.8 1150.9,874 1151.8,875.8 1152.7,874.1 1153.5,874.3 1154.4,875.3 1155.2,877.2 1156.1,875.8 1156.9,876.4 1157.8,874.8 1158.6,874.8 1159.5,875.5 1160.4,875.3 1161.2,875.2 1162.1,875.3 1162.9,874.4 1163.8,874.7 1164.6,874.6 1165.5,876.4 1166.3,874.4 1167.2,874.6 1168,875.3 1168.9,875.2 1169.8,875.2 1170.6,872.3 1171.5,874 1172.3,873.7 1173.2,873.7 1174,874.1 1174.9,874.6 1175.7,874 1176.6,872.8 1177.5,873 1178.3,871.4 1179.2,872 1180,874.4 1180.9,872.8 1181.7,870.9 1182.6,872.1 1183.4,872.6 1184.3,872.6 1185.1,870.7 1186,871.4 1186.9,873.4 1187.7,875.1 1188.6,871.7 1189.4,870.2 1190.3,870.6 1191.1,870.5 1192,871 1192.8,872.4 1193.7,873.3 1194.6,868.9 1195.4,871.1 1196.3,871.6 1197.1,871 1198,871 1198.8,871 1199.7,873 1200.5,871.9 1201.4,870.7 1202.2,873.6 1203.1,872.6 1204,870.1 1204.8,870.3 1205.7,871.8 1206.5,872.2 1207.4,870.4 1208.2,873.3 1209.1,872.4 1209.9,873 1210.8,870.4 1211.7,870.2 1212.5,872.5 1213.4,872.1 1214.2,873.3 1215.1,871.4 1215.9,872.8 1216.8,869.4 1217.6,871.3 1218.5,873 1219.3,870.7 1220.2,871.4 1221.1,872.3 1221.9,873.4 1222.8,874.2 1223.6,871.8 1224.5,871.8 1225.3,875 1226.2,875.9 1227,872.7 1227.9,872.7 1228.8,874.1 1229.6,874.3 1230.5,871.9 1231.3,875.1 1232.2,871.7 1233,873 1233.9,871.2 1234.7,874.9 1235.6,874.5 1236.4,874.6 1237.3,872.7 1238.2,874.3 1239,872.3 1239.9,874.1 1240.7,875.8 1241.6,874.7 1242.4,873.1 1243.3,875.8 1244.1,873.6 1245,874.1 1245.5,875.5" stroke="#c0c0c0" stroke-width="7.8" stroke-dasharray="28 20 1.5 20" stroke-dashoffset="0"/>
<path d="M131.5,1627.4 132.6,1628.7 133.8,1628 134.9,1626.6 136.1,1624.6 137.2,1628.9 138.4,1629.2 139.5,1625.9 140.6,1629.8 141.8,1627.2 142.9,1631 144.1,1628.5 145.2,1627.3 146.3,1629.3 147.5,1627.9 148.6,1627.9 149.8,1627.8 150.9,1627.6 152.1,1628.5 153.2,1628.8 154.3,1628.2 155.5,1629.9 156.6,1625.7 157.8,1626.5 158.9,1627.7 160.1,1624.8 161.2,1627.7 162.3,1626.1 163.5,1624.5 164.6,1624.8 165.8,1622.8 166.9,1621.1 168,1623.5 169.2,1623.1 170.3,1621.6 171.5,1621 172.6,1618 173.8,1619.4 174.9,1619.7 176,1620.5 177.2,1622 178.3,1619.7 179.5,1619.5 180.6,1621.8 181.7,1620.6 182.9,1619.2 184,1622.6 185.2,1620.2 186.3,1620.8 187.5,1620.4 188.6,1622.3 189.7,1623.4 190.9,1621.8 192,1623 193.2,1622 194.3,1625.7 195.5,1624.8 196.6,1622.3 197.7,1623.8 198.9,1624.4 200,1623.7 201.2,1622.1 202.3,1622.7 203.4,1623.6 204.6,1623 205.7,1621.1 206.9,1622.4 208,1620.2 209.2,1618.4 210.3,1620.9 211.4,1621.5 212.6,1620.4 213.7,1621.3 214.9,1621.3 216,1619.1 217.1,1617.5 218.3,1617.8 219.4,1615.7 220.6,1617.2 221.7,1616.8 222.9,1616.9 224,1617.7 225.1,1613.4 226.3,1616.8 227.4,1614.9 228.6,1616.3 229.7,1615.2 230.9,1613.4 232,1615.5 233.1,1613.3 234.3,1614.6 235.4,1612.9 236.6,1612.8 237.7,1613.3 238.8,1615.2 240,1613.5 241.1,1612.3 242.3,1614.2 243.4,1611.9 244.6,1611.2 245.7,1610.1 246.8,1611.3 248,1611 249.1,1609.8 250.3,1608 251.4,1610 252.6,1610.1 253.7,1609.2 254.8,1608.3 256,1607.9 257.1,1608.5 258.3,1610.6 259.4,1608.9 260.5,1606.5 261.7,1609.2 262.8,1607.7 264,1611 265.1,1607.6 266.3,1607.7 267.4,1607.9 268.5,1607.8 269.7,1607.4 270.8,1607.2 272,1606.7 273.1,1606.1 274.2,1606.1 275.4,1604.9 276.5,1605.5 277.7,1605.1 278.8,1605.1 280,1604.8 281.1,1604.9 282.2,1605.2 283.4,1603.7 284.5,1603.5 285.7,1603 286.8,1601.4 288,1600.8 289.1,1600.5 290.2,1597 291.4,1598.9 292.5,1596.5 293.7,1591.5 294.8,1595.8 295.9,1592.6 297.1,1594.3 298.2,1591.1 299.4,1591.2 300.5,1591.5 301.7,1588.9 302.8,1587.9 303.9,1588.3 305.1,1589.4 306.2,1588.3 307.4,1588 308.5,1586.1 309.7,1585.5 310.8,1585.6 311.9,1584.3 313.1,1581.9 314.2,1583.2 315.4,1581 316.5,1579.9 317.6,1580.4 318.8,1579.5 319.9,1580 321.1,1578.6 322.2,1577 323.4,1576.8 324.5,1575.4 325.6,1575 326.8,1576.2 327.9,1574.4 329.1,1572.6 330.2,1571.9 331.4,1570.7 332.5,1570.4 333.6,1567.9 334.8,1569.6 335.9,1567.6 337.1,1567.8 338.2,1567.2 339.3,1565.3 340.5,1562.5 341.6,1560.9 342.8,1562 343.9,1560.5 345.1,1556.2 346.2,1555.1 347.3,1555.9 348.5,1552.9 349.6,1553.6 350.8,1549.8 351.9,1548.4 353,1545.2 354.2,1542.7 355.3,1539.3 356.5,1535.6 357.6,1538.2 358.8,1535.6 359.9,1531.7 361,1531.3 362.2,1525.7 363.3,1527.1 364.5,1523.2 365.6,1522.2 366.8,1515.4 367.9,1516.7 369,1513.3 370.2,1509.1 371.3,1503.7 372.5,1501 373.6,1496.5 374.7,1490.7 375.9,1485 377,1480.7 378.2,1476.7 379.3,1474.4 380.5,1470.2 381.6,1467 382.7,1462 383.9,1456.7 385,1455.4 386.2,1452.7 387.3,1451.7 388.4,1451.7 389.6,1447.7 390.7,1445.5 391.9,1444.9 393,1443.5 394.2,1442.3 395.3,1438.7 396.4,1437.7 397.6,1437.5 398.9,1437.5 399.9,1437.8 401,1436.7 402.2,1440.6 403.3,1438.1 404.4,1439.2 405.6,1439.8 406.7,1439.6 407.9,1441.2 409,1441.9 410.1,1442.7 411.3,1443.2 412.4,1442.5 414,1443.5 414.7,1444.5 415.9,1441.9 417,1442.2 418.1,1439.7 419.3,1440.4 420.4,1434.6 421.6,1430.1 422.7,1429 423.9,1427.9 425,1425.7 426.1,1422.3 427.3,1417.7 428.4,1415.6 429.6,1408.3 430.7,1404.2 431.8,1398.8 433,1395.3 434.1,1390.4 435.3,1382.6 436.4,1376.5 437.6,1368.4 438.7,1361.1 439.8,1353.9 441,1347.6 442.1,1335.4 443.3,1321.4 444.4,1306.7 445.5,1291 446.7,1275.9 447.8,1269.5 449,1259.6 450.1,1252.9 451.3,1246.6 452.4,1241.6 453.5,1234.9 454.7,1230.2 455.8,1226.3 457,1217.4 458.1,1209.9 459.3,1207.1 460.4,1198.2 461.5,1190.7 462.7,1182.4 463.8,1172.5 465,1164.5 466.1,1153.3 467.2,1146.3 468.4,1137.4 469.5,1126.6 470.7,1117.6 471.8,1108.5 473,1099.1 474.1,1088.3 475.2,1080.1 476.4,1069 477.5,1058.7 478.7,1045 479.8,1036.1 481,1026.1 482.1,1014.4 483.2,1003.9 484.4,990.5 485.5,976.9 486.7,966.6 487.8,957.2 488.9,947.3 490.1,939.2 491.2,933.9 492.6,928.6 493.5,930.1 494.7,930.9 495.8,931.7 496.9,933 498.1,937.9 499.2,938.4 500.4,942.2 501.5,943.7 502.6,946.4 503.8,953.6 504.9,969.1 506.1,985.3 507.2,1003.5 508.4,1012.1 509.5,1019.7 510.6,1030.1 511.8,1037.3 512.9,1047.6 514.1,1062.1 515.2,1069.8 516.4,1079.5 517.5,1089 518.6,1101.2 519.8,1111.2 520.9,1116.7 522.1,1129.6 523.2,1139.8 524.3,1149.7 525.5,1156.8 526.6,1167.7 527.8,1179.2 528.9,1187.9 530.1,1194.7 531.2,1206.2 532.3,1215.1 533.5,1227.8 534.6,1234.1 535.8,1250.1 536.9,1260.5 538.1,1272.6 539.2,1280.6 540.3,1292.1 541.5,1301.4 542.6,1313.5 543.8,1323.2 544.9,1335.3 546,1343.7 547.2,1349.6 548.3,1362.2 549.5,1371.1 550.6,1381.4 551.8,1390 552.9,1397.2 554,1406.8 555.2,1417.7 556.3,1424.5 557.5,1435.2 558.6,1443.7 559.8,1456.5 560.9,1466.4 562,1474.4 563.2,1481.9 564.3,1490.2 565.5,1496.7 566.6,1501.6 567.7,1507.3 568.9,1509.8 570,1514.6 571.2,1519.3 572.3,1525.7 573.5,1527.1 574.6,1532.5 575.7,1537.1 576.9,1537.6 578,1540.3 579.2,1543.4 580.3,1549.3 581.4,1551.9 582.6,1553.7 583.7,1554.9 584.9,1558.2 586,1558 587.2,1562.3 588.3,1563.5 589.4,1565.1 590.6,1568.5 591.7,1567 592.9,1568.5 594,1571.9 595.2,1574.2 596.3,1573 597.4,1574.2 598.6,1576.6 599.7,1578.8 600.9,1578.4 602,1581.7 603.1,1584.4 604.3,1582.7 605.4,1583.3 606.6,1587.7 607.7,1584.4 608.9,1588.5 610,1589.4 611.1,1587.1 612.3,1590.6 613.4,1592.3 614.6,1590.7 615.7,1589 616.8,1591.6 618,1595.6 619.1,1592.5 620.3,1595.7 621.4,1593.5 622.6,1595 623.7,1595.3 624.8,1596.8 626,1598.2 627.1,1598.3 628.3,1597.8 629.4,1599.5 630.6,1600.2 631.7,1600.7 632.8,1601.3 634,1602 635.1,1604 636.3,1607.2 637.4,1605.5 638.5,1606.6 639.7,1606 640.8,1607.2 642,1610.5 643.1,1609 644.3,1610.7 645.4,1611.9 646.5,1610.7 647.7,1613.3 648.8,1613.3 650,1613.4 651.1,1611.8 652.3,1613.3 653.4,1610.9 654.5,1613.6 655.7,1613.7 656.8,1613.2 658,1614.3 659.1,1612.2 660.2,1613.2 661.4,1612.4 662.5,1614.4 663.7,1613.9 664.8,1615.8 666,1613.7 667.1,1615.4 668.2,1614.9 669.4,1615.5 670.5,1616.2 671.7,1617.4 672.8,1617.3 673.9,1614.2 675.1,1616.8 676.2,1615.2 677.4,1617.2 678,1615.9" stroke="#c0c0c0" stroke-width="7.8" stroke-dasharray="28 20 1.5 20" stroke-dashoffset="0"/>
<path d="M697.8,1629.4 698.7,1627.1 699.5,1627.7 700.4,1628 701.2,1626.2 702.1,1626.4 702.9,1625.7 703.8,1626.8 704.6,1625 705.5,1625.6 706.3,1624.2 707.2,1625.2 708.1,1623.3 708.9,1622.7 709.8,1623.1 710.6,1625.2 711.5,1622.4 712.3,1620.7 713.2,1620.7 714,1624.4 714.9,1620.9 715.8,1620.7 716.6,1620.8 717.5,1621.9 718.3,1620.5 719.2,1620.1 720,1619.3 720.9,1618 721.7,1618.5 722.6,1617.6 723.4,1616.1 724.3,1614.6 725.2,1618.5 726,1617.9 726.9,1617.1 727.7,1616.7 728.6,1616.1 729.4,1614.3 730.3,1613.9 731.1,1614.1 732,1613.9 732.9,1613.4 733.7,1612.6 734.6,1614.5 735.4,1614.2 736.3,1615 737.1,1614.9 738,1612.1 738.8,1613.2 739.7,1612.3 740.5,1612.5 741.4,1614.2 742.3,1613.6 743.1,1612.1 744,1612.5 744.8,1611.9 745.7,1610.7 746.5,1610.5 747.4,1609.7 748.2,1612 749.1,1609.1 750,1609.4 750.8,1609.5 751.7,1608.6 752.5,1611.1 753.4,1609.8 754.2,1606.5 755.1,1607.7 755.9,1609.6 756.8,1607.9 757.6,1608.5 758.5,1608.4 759.4,1608.2 760.2,1607.1 761.1,1607.7 761.9,1607.7 762.8,1606.5 763.6,1607.7 764.5,1607.3 765.3,1607.5 766.2,1607.8 767.1,1606.8 767.9,1605.7 768.8,1607.8 769.6,1607.3 770.5,1605.5 771.7,1606.6 772.2,1607.1 773,1607.5 773.9,1605.1 774.8,1606.7 775.6,1606.6 776.5,1607.3 777.3,1608.4 778.2,1610.1 779,1607.5 779.9,1610.5 780.7,1610.3 781.6,1612 782.4,1609.9 783.3,1610.6 784.2,1611.8 785,1611.5 785.9,1613.4 786.7,1612.4 787.6,1613.4 788.4,1613.3 789.3,1612.2 790.1,1614.4 791,1613.2 791.8,1614.1 792.7,1614.2 793.6,1615.3 794.4,1613.4 795.3,1616.5 796.1,1616.3 797,1615.6 797.8,1614.6 798.9,1615.7 799.5,1615.4 800.4,1614.7 801.3,1615.5 802.1,1615.9 803,1616 803.8,1615.3 804.7,1613.9 805.5,1616.8 806.4,1616.7 807.2,1613.6 808.1,1613.9 808.9,1616.6 809.8,1615.5 810.7,1613.9 811.5,1614.2 812.4,1611.6 813.2,1612.9 814.1,1614.1 814.9,1610.3 815.8,1612.9 816.6,1610.8 817.5,1613.8 818.4,1610.2 819.2,1609.9 820.1,1610.3 820.9,1610 821.8,1610.9 822.6,1611.8 823.5,1608.7 824.3,1609.5 825.2,1610.3 826,1608.5 826.9,1610.2 827.8,1609.8 828.6,1609.7 829.5,1609.1 830.3,1609.8 831.2,1610.4 832,1608.6 832.9,1610 833.7,1608.8 834.6,1606.6 835.5,1609.8 836.3,1608.6 837.2,1609.6 838,1607.6 838.9,1608.1 839.7,1607.3 840.6,1606.3 841.4,1608 842.3,1609.4 843.1,1607.7 844,1607.1 844.9,1606.6 845.7,1605.7 846.6,1607.3 847.4,1607.6 848.3,1606.3 849.1,1606.2 850,1605.8 850.8,1605.2 851.7,1607.7 852.6,1606.9 853.4,1605.9 854.3,1604.3 855.1,1604.9 856,1606.4 856.8,1606 857.7,1607.5 858.5,1605.1 859.4,1603.9 860.2,1603.2 861.1,1600.7 862,1603.1 862.8,1599.6 863.7,1600.8 864.5,1599.9 865.4,1600.2 866.2,1599.7 867.1,1599.2 867.9,1598.3 868.8,1596.9 869.7,1596.9 870.5,1595.8 871.4,1593.7 872.2,1594.5 873.1,1592.5 873.9,1592.5 874.8,1591.9 875.6,1589.7 876.5,1588 877.3,1589.2 878.2,1586.7 879.1,1586 879.9,1586 880.8,1583.2 881.6,1582.8 882.5,1582 883.3,1579.1 884.2,1578.2 885,1577.7 885.9,1577.4 886.8,1573.1 887.6,1574.3 888.5,1573 889.3,1570 890.2,1568.4 891,1564.2 891.9,1563.9 892.7,1559.2 893.6,1556.8 894.4,1551.9 895.3,1551.3 896.2,1546.8 897,1545.2 897.9,1544.6 898.7,1543.3 899.6,1542.1 900.4,1543.1 901.3,1543.7 902.1,1543.2 903,1543.3 903.9,1543 904.7,1543.1 905.6,1543.3 906.4,1542.5 907.3,1544.1 908.1,1544.3 909,1543.2 909.8,1543.2 910.7,1543.5 911.5,1543.4 912.4,1544.4 913.3,1545 914.1,1544.9 915,1545.3 915.8,1543.4 916.7,1545.5 917.5,1544.2 918.4,1544.6 919.2,1544 920.1,1543.7 921,1543.9 921.8,1543.1 922.7,1542.9 923.5,1541.9 924.4,1544.3 925.2,1544.4 926.1,1542.5 926.9,1540.3 927.8,1541.5 928.6,1542.5 929.5,1539 930.4,1541.2 931.2,1539.5 932.1,1535.8 932.9,1538.2 933.8,1537.2 934.6,1535.9 935.5,1533.8 936.3,1534.2 937.2,1535.9 938.1,1532.6 938.9,1530.8 939.8,1532.2 940.6,1531 941.5,1529.3 942.3,1530 943.2,1527.8 944,1527.4 944.9,1525.9 945.8,1527.1 946.6,1524.7 947.5,1522.6 948.3,1524.2 949.2,1521.8 950,1519.9 950.9,1519.7 951.7,1516.6 952.6,1515.9 953.4,1514.5 954.3,1514.5 955.2,1511.8 956,1511.3 956.9,1509.6 957.7,1508.2 958.6,1506 959.4,1506 960.3,1502 961.1,1502.1 962,1499.8 962.8,1501.3 963.7,1500.3 964.6,1497.2 965.4,1497.7 966.3,1495.5 967.1,1496.7 968,1494.2 968.8,1496.2 969.7,1494.3 970.5,1493.7 971.4,1491.2 972.3,1489 973.1,1489.6 974,1489.3 974.8,1488.5 975.7,1487.4 976.5,1486.6 977.4,1485.8 978.2,1488.3 979.1,1484.7 979.9,1483.8 980.8,1480.4 981.7,1483.7 982.5,1481.8 983.4,1480.5 984.2,1479.5 985.1,1478.6 985.9,1479.8 986.8,1476.8 987.6,1478.2 988.5,1476.3 989.4,1473.5 990.2,1471.2 991.1,1472.2 991.9,1469.7 992.8,1468.1 993.6,1467.7 994.5,1467.5 995.3,1461.8 996.2,1461.3 997,1460.1 997.9,1461 998.8,1457.5 999.6,1457.5 1000.5,1456.3 1001.3,1452.2 1002.2,1450.9 1003,1449.3 1003.9,1447.7 1004.7,1445 1005.6,1442.9 1006.5,1437.6 1007.3,1435.9 1008.2,1432.1 1009,1431.3 1009.9,1426.5 1010.7,1423.2 1011.6,1420.9 1012.4,1419.5 1013.3,1418 1014.1,1413.2 1015,1412.3 1015.9,1411.8 1016.7,1408.2 1017.6,1408.5 1018.4,1405 1019.3,1405 1020.1,1403 1021,1400.6 1021.8,1398.3 1022.7,1396.2 1023.6,1396.2 1024.4,1397.5 1025.3,1393.1 1026.1,1394.4 1026.9,1393.7 1027.8,1394.4 1028.7,1393.8 1029.5,1394.7 1030.4,1394.5 1031.2,1396.7 1032.1,1395.4 1033,1396 1033.8,1399.3 1034.7,1398 1035.5,1399.6 1036.4,1398.9 1037.2,1400.1 1038.1,1402.5 1038.9,1403.4 1039.8,1406.2 1040.7,1408.3 1041.5,1412 1042.4,1414.4 1043.2,1418.8 1044.1,1419.7 1044.9,1425.8 1045.8,1429 1046.6,1431.7 1047.5,1437.4 1048.3,1439.1 1049.2,1443.8 1050.1,1447.1 1050.9,1449.8 1051.8,1452.7 1052.6,1456.9 1053.5,1461.2 1054.3,1464.1 1055.2,1468.7 1056,1472.5 1056.9,1475 1057.8,1479.7 1058.6,1482 1059.5,1487.6 1060.3,1487.9 1061.2,1492 1062,1494.1 1062.9,1494.3 1063.7,1498.7 1064.6,1502.5 1065.4,1504.8 1066.3,1510.1 1067.2,1510.7 1068,1514.6 1068.9,1517 1069.7,1519.9 1070.6,1523 1071.4,1526.6 1072.3,1529.6 1073.1,1531.1 1074,1535.1 1074.9,1537.6 1075.7,1541 1076.6,1543.3 1077.4,1546.7 1078.3,1547.1 1079.1,1549.7 1080,1554 1080.8,1554.3 1081.7,1557 1082.5,1557.6 1083.4,1557.9 1084.3,1560.6 1085.1,1560.6 1086,1561.3 1086.8,1564.2 1087.7,1563 1088.5,1566 1089.4,1566.2 1090.2,1565.6 1091.1,1568.1 1092,1567.9 1092.8,1569.6 1093.7,1571.7 1094.5,1574.1 1095.4,1572.3 1096.2,1576.7 1097.1,1578 1097.9,1579.9 1098.8,1581.6 1099.6,1584.5 1100.5,1585.6 1101.4,1586.2 1102.2,1585.3 1103.1,1588.6 1103.9,1590.1 1104.8,1590.8 1105.6,1590.6 1106.5,1593.5 1107.3,1592.6 1108.2,1592.3 1109.1,1594.6 1109.9,1593.2 1110.8,1595.6 1111.6,1596 1112.5,1596.4 1113.3,1597.6 1114.2,1596.7 1115,1597.3 1115.9,1597.8 1116.8,1599 1117.6,1597.5 1118.5,1599.5 1119.3,1601.6 1120.2,1602.4 1121,1601.2 1121.9,1602.8 1122.7,1602.1 1123.6,1602.4 1124.4,1603.4 1125.3,1603.4 1126.2,1602.4 1127,1604 1127.9,1604.4 1128.7,1605.2 1129.6,1605.4 1130.4,1606.7 1131.3,1606.3 1132.1,1607.5 1133,1607 1133.8,1607.5 1134.7,1607.8 1135.6,1607.7 1136.4,1608.5 1137.3,1610.6 1138.1,1611.1 1139,1610 1139.8,1612.5 1140.7,1611.9 1141.5,1612.1 1142.4,1611.2 1143.3,1611.7 1144.1,1612.6 1145,1614.3 1145.8,1613.6 1146.7,1615 1147.5,1614.7 1148.4,1616.1 1149.2,1617.1 1150.1,1616.2 1150.9,1615.2 1151.8,1617 1152.7,1616.9 1153.5,1618.3 1154.4,1618.4 1155.2,1617.2 1156.1,1618.6 1156.9,1619.7 1157.8,1620.6 1158.6,1620.3 1159.5,1620.1 1160.4,1620.6 1161.2,1622.9 1162.1,1620.7 1162.9,1622.8 1163.8,1622 1164.6,1623.3 1165.5,1623.1 1166.3,1624.5 1167.2,1622.3 1168,1623.6 1168.9,1625.9 1169.8,1625.2 1170.6,1624.3 1171.5,1626.3 1172.3,1625.7 1173.2,1627.7 1174,1625.7 1174.9,1627.6 1175.7,1627.3 1176.6,1626.8 1177.5,1626.3 1178.3,1629 1179.2,1629.7 1180,1628.5 1180.9,1626.4 1181.7,1629.2 1182.6,1632.3 1183.4,1627.5 1184.3,1627.2 1185.1,1629.4 1186,1629.5 1186.9,1628.9 1187.7,1629.5 1188.6,1630.7 1189.4,1627.4 1190.3,1630.9 1191.1,1630.5 1192,1631.1 1192.8,1628.2 1193.7,1628.8 1194.6,1627.3 1195.4,1628.1 1196.3,1628.1 1197.1,1626.1 1198,1626.8 1198.8,1628.3 1199.7,1626.8 1200.5,1627.9 1201.4,1628.6 1202.2,1627.4 1203.1,1626 1204,1625.9 1204.8,1626.5 1205.7,1627.1 1206.5,1628.1 1207.4,1626.7 1208.2,1626.5 1209.1,1626.4 1209.9,1629 1210.8,1627.8 1211.7,1626.6 1212.5,1623 1213.4,1628.2 1214.2,1627.5 1215.1,1626.8 1215.9,1625.6 1216.8,1628.2 1217.6,1629.7 1218.5,1625.7 1219.3,1628.9 1220.2,1628.2 1221.1,1629.5 1221.9,1627.4 1222.8,1630 1223.6,1629.1 1224.5,1629.3 1225.3,1632.6 1226.2,1629.8 1227,1631.3 1227.9,1633.9 1228.8,1632.3 1229.6,1631.5 1230.5,1630.7 1231.3,1630 1232.2,1632.2 1233,1631.1 1233.9,1633 1234.7,1633.7 1235.6,1633.9 1236.4,1631.7 1237.3,1633.4 1238.2,1633.7 1239,1635.1 1239.9,1633.7 1240.7,1634.1 1241.6,1632.9 1242.4,1635.2 1243.3,1634.9 1244.1,1634.4 1245,1635 1245.5,1634.7" stroke="#c0c0c0" stroke-width="7.8" stroke-dasharray="28 20 1.5 20" stroke-dashoffset="0"/>
</g>
<g id="panel-b-curves" clip-path="url(#cb)" fill="none" stroke-linejoin="round">
<path d="M1352.4,481.9 1358,482 1363.5,481.8 1369.1,480.7 1374.7,480.2 1380.3,478.7 1385.8,477.8 1391.4,477.3 1397,476.6 1402.5,474.8 1408.1,473.6 1413.7,473.9 1419.3,472.8 1424.8,470.1 1430.4,466.5 1436,468.2 1441.6,466.4 1447.1,462.6 1452.7,460.1 1458.3,461.8 1463.8,462.7 1469.4,458.9 1475,453.9 1480.6,450.7 1486.1,449.3 1491.7,449.1 1497.3,448 1502.8,445 1508.4,441.5 1514,440.4 1519.6,440.3 1525.1,435.5 1530.7,426.3 1536.3,420.6 1541.8,418 1547.4,415.5 1553,412.5 1558.6,409.7 1564.1,405.8 1569.7,402.3 1575.3,400.2 1580.9,398.6 1586.4,400.1 1592,403.3 1597.6,401.5 1603.1,397.1 1608.7,394.9 1614.3,393.7 1619.9,394.7 1625.4,395.5 1631,397.2 1636.6,399.3 1642.1,397.7 1647.7,391.9 1653.3,388.5 1658.9,387 1664.4,385.2 1670,382.9 1675.6,380.1 1681.1,377.5 1686.7,373.9 1692.3,368.6 1697.9,359.9 1703.4,351.9 1709,346.2 1714.6,340.3 1720.2,331 1725.7,319.7 1731.3,305.2 1736.9,290.7 1742.4,276.3 1748,261.1 1753.6,244.7 1759.2,228.8 1764.7,213.9 1770.3,200.2 1775.9,186.8 1781.4,172.3 1787,155.4 1792.6,138.9 1798.2,122.3 1803.7,111.1 1809.3,108.8 1814.9,110.9 1820.4,112.3 1826,114 1831.6,118.6 1837.2,121.9 1842.7,123.3 1848.3,126.5 1853.9,138 1859.5,149 1865,161 1870.6,173.5 1876.2,187.3 1881.7,201.6 1887.3,215 1892.9,224.7 1898.5,230.3 1904,234.8 1909.6,239.7 1915.2,242.6 1920.7,245.7 1926.3,250.1 1931.9,254.8 1937.5,259.1 1943,266.5 1948.6,279.7 1954.2,291.4 1959.7,302.1 1965.3,313.6 1970.9,325.6 1976.5,336.4 1982,345.6 1987.6,355.5 1993.2,369.5 1998.8,385.6 2004.3,397.7 2009.9,407 2015.5,414.8 2021,422 2026.6,429.5 2032.2,435.6 2037.8,443 2043.3,450.3 2048.9,456.3 2054.5,460 2060,464 2065.6,467 2071.2,469.5 2076.8,471.3 2082.3,473.8 2087.9,476.4 2093.5,477.9 2099,478.1 2104.6,478.2 2110.2,480.4 2115.8,481.8 2121.3,483 2126.9,484.9 2132.5,485.7 2138.1,484.4 2143.6,483.6 2150.2,492.6 2154.8,490.3 2160.3,489.2 2165.9,491.5 2171.5,489.5 2177.1,488.9 2183.4,495.6 2188.2,493 2194,491.1 2199.3,495 2204.9,497.6 2210.5,496.9 2216.1,495.3 2221.6,494 2227.2,493.4 2232.8,495.2 2238.3,495.7 2243.9,496.7 2249.5,498.7 2255.1,499.9 2260.6,498 2266.2,494.5 2269.5,494.1 2277.4,496.2 2282.9,498.6 2288.5,499.2 2294.1,498.7 2299.6,497.8 2305.2,498.4 2310.8,499.1 2316.4,499.2 2321.9,499.8 2327.5,500.4 2333.1,499.7 2338.6,499.6 2344.2,499.9 2349.8,499.2 2355.4,498.2 2360.9,497.9 2366.5,498.4 2372.1,498.2 2377.6,496.4 2383.2,497 2388.8,499.4 2394.4,500.8 2399.9,501.9 2405.5,503.1 2411.1,503.4 2416.7,502.7 2422.2,500.6 2427.8,500.1 2433.4,500.8 2438.9,501.3 2444.5,501.4 2450.1,501.7 2455.7,502.2 2461.2,503 2465.2,504.7" stroke="#ff8000" stroke-width="8.8" />
<path d="M1352.4,653.3 1358,652.8 1363.5,653.8 1369.1,653 1374.7,651.7 1380.3,650.6 1385.8,649.3 1391.4,647.5 1397,647.9 1402.5,647.7 1408.1,647.7 1413.7,648 1419.3,648.6 1424.8,646.2 1430.4,644.8 1436.6,649.5 1441.6,649 1447.1,645.8 1452.7,643.3 1458.3,642.8 1463.8,643.9 1469.4,638.6 1475,636 1480.6,636.7 1486.1,637 1491.7,636.3 1497.3,635.2 1502.8,633.5 1508.4,631.4 1514,631.6 1519.6,631.7 1525.1,628.4 1530.7,627.6 1536.3,622.6 1541.8,617.2 1547.4,617.4 1553,616.5 1558.6,614.5 1564.1,611.9 1569.7,609.2 1575.3,606.7 1580.9,601.8 1586.4,597.7 1592,595.5 1597.6,590.6 1603.1,584.9 1608.7,579.7 1614.3,578.1 1619.9,577.6 1625.4,577.8 1631,576.7 1636.6,571.9 1642.1,567.8 1647.7,567.8 1653.3,567.6 1658.9,567.4 1664.4,568.8 1670,570.8 1675.6,571 1681.1,572 1686.7,572 1692.3,568 1697.9,566.3 1703.4,567.1 1709,565.1 1714.6,567.7 1720.2,567.8 1725.7,566.4 1731.3,564.2 1736.9,559.2 1742.4,553.2 1748,547.5 1753.6,542 1759.2,537.8 1764.7,533.3 1770.3,527.8 1775.9,520.8 1781.4,510.1 1787,498.4 1792.6,484.3 1798.2,469.7 1803.7,454.6 1809.3,438 1814.9,416.6 1820.4,392.1 1826,371.3 1831.6,353 1837.2,334.3 1842.7,315.1 1848.3,299.2 1853.9,286.7 1859.5,276.3 1865,269.5 1872.1,264 1876.2,274.4 1881.7,276.6 1887.3,275.7 1892.9,282.1 1898.5,291.6 1904,302.9 1909.6,309.8 1915.2,314.7 1920.7,323.1 1926.3,340.8 1931.9,356 1937.5,363.4 1943,373.1 1948.6,386.8 1954.2,398.6 1959.7,404.5 1965.3,412.2 1970.9,426 1976.5,443.8 1982,458.8 1987.6,470.7 1993.2,485.8 1998.8,502.4 2004.3,512.1 2009.9,519.7 2015.5,528.4 2021,539.4 2026.6,550.5 2032.2,559.8 2037.8,566.8 2043.3,573.2 2048.9,578.2 2054.5,585.1 2060,593.2 2065.6,600.8 2071.2,604.4 2076.8,606.4 2082.3,613.9 2087.9,621.2 2093.5,625.7 2099,627.9 2104.6,631.8 2110.2,634.4 2115.8,635.2 2121.3,636.8 2126.9,641.7 2132.5,645.8 2136.6,646.5 2143.6,644.1 2148.7,641.9 2154.8,648.8 2160.3,650.6 2165.9,651.1 2171.5,650.4 2177.1,651 2182.6,652.7 2188.2,655.2 2193.8,658 2199.3,659.6 2204.9,660.3 2210.5,658.3 2216.1,656.9 2221.6,657.2 2227.2,656.4 2232.8,661.1 2237.7,664.6 2243.9,660.9 2249.5,658 2255.1,658.4 2260.6,659.5 2266.2,659.5 2271.8,660.7 2277.4,660.7 2282.9,661 2288.5,661.5 2294.1,661.7 2299.6,662.4 2305.2,661.7 2310.8,661.2 2316.4,661.6 2321.9,661.4 2327.5,660.7 2333.1,662.1 2338.6,665.6 2344.2,666.8 2349.8,665.7 2355.4,664.8 2360.9,662.9 2366.5,662.9 2372.1,664.6 2377.6,664.1 2383.2,664.6 2388.8,665.1 2394.4,664.6 2399.9,665.1 2405.5,664.7 2411.1,663.4 2416.7,663.1 2422.2,664.7 2427.8,665.5 2433.4,666.9 2438.9,667.4 2444.5,666.8 2450.1,666.4 2455.7,664.7 2461.2,662.8 2465.2,662.3" stroke="#ff0000" stroke-width="8.8" />
<path d="M1352.4,802.8 1358,801.9 1363.5,801.5 1369.1,802.3 1374.7,801.9 1380.3,800.1 1385.8,798.8 1391.4,797.6 1397,798.1 1402.5,800.1 1408.1,800.2 1413.7,800.6 1419.3,800.8 1424.8,800.2 1430.4,798.4 1436,797.4 1441.6,797.8 1447.1,798.1 1452.7,796.8 1458.3,797.3 1463.8,797.5 1469.8,794.4 1475,798.3 1480.6,799.9 1486.1,798.8 1491.7,797.6 1497.3,797.9 1502.8,798.5 1508.4,796.9 1514,795.3 1519.6,795.4 1525.1,794.6 1530.7,793.6 1536.3,792.2 1541.8,788.7 1547.4,785.5 1553,783.6 1558.6,784.7 1564.1,785.8 1569.7,785.6 1575.3,785.3 1580.9,784.2 1586.4,782.1 1592,779.8 1597.6,777.5 1603.1,775.6 1608.7,773.9 1614.3,770.5 1619.9,766.5 1625.4,762.9 1631,759.6 1636.6,756.5 1642.1,753.2 1647.7,749.2 1653.3,744.3 1658.9,738.2 1664.4,733.6 1670,731.4 1675.6,731 1681.1,732.4 1686.7,732.3 1692.3,728.9 1697.9,727.4 1703.4,728.4 1709,730.3 1714.6,733.4 1720.2,736.6 1725.7,739.3 1731.3,739.9 1736.9,742 1742.4,743.3 1748,743.7 1753.6,743 1759.2,742 1764.7,738.4 1770.3,731.8 1775.9,728.5 1781.4,726.2 1787,721.7 1792.6,715.1 1798.2,707.8 1803.7,699.2 1809.3,695.2 1814.9,691.9 1820.4,685.1 1826,678.6 1831.6,673.9 1837.2,667.2 1842.7,659.4 1848.3,650.1 1853.9,640.6 1859.5,630 1865,616.8 1870.6,602.6 1876.2,587 1881.7,571 1887.3,551.9 1892.9,531.4 1898.5,507.3 1904,483.8 1909.6,457.4 1915.2,432 1920.7,414.8 1926.3,413 1931.9,413.9 1937.5,418.4 1943,424.9 1948.6,435.6 1954.2,450.8 1959.7,470.3 1965.3,491.5 1970.9,510.1 1976.5,529.8 1982,549.3 1987.6,566 1993.2,583.6 1998.8,596.7 2004.3,606.9 2009.9,617 2015.5,626.4 2021,637.3 2026.6,647.7 2032.2,656.5 2037.8,666.6 2043.3,677.6 2048.9,688.5 2054.5,697.4 2060,706.6 2065.6,717.5 2071.2,727.2 2076.8,735.6 2082.3,742 2087.9,748.8 2093.5,754.5 2099,761.1 2104.6,766.8 2110.2,772.3 2115.8,776.2 2121.3,778.6 2126.9,780.6 2132.5,783.6 2138.1,787.6 2143.6,789.2 2149.2,788.9 2154.8,789.6 2160.3,791.8 2165.9,793 2171.5,793.7 2177.1,795.2 2182.6,796.7 2188.2,797.5 2193.8,798.5 2199.3,799.2 2204.9,799.9 2210.5,800.9 2216.1,802.3 2221.6,801.6 2227.2,799.4 2232.8,799.3 2238.3,801 2243.9,803.1 2249.5,804.9 2255.1,805.5 2260.6,805.1 2266.2,806.1 2271.8,806.9 2277.4,806 2282.9,805.4 2288.5,804.2 2294.1,803.1 2299.6,802.2 2305.2,802.8 2310.8,805 2316.4,806.4 2321.9,805.4 2327.5,805.2 2333.1,807.8 2338.6,809.2 2344.2,809.8 2349.8,809.7 2355.4,810 2360.9,809.3 2366.5,808 2372.1,808 2377.6,808.1 2383.2,808 2388.8,808.5 2394.4,808.2 2399.9,808.1 2405.5,807.8 2411.1,808.2 2416.7,807.8 2422.2,806.7 2427.8,807.7 2433.4,809 2438.9,809.2 2444.5,810.2 2450.1,809.8 2455.7,808.3 2461.2,808.3 2465.2,808.8" stroke="#0000ff" stroke-width="8.8" />
<path d="M1352.4,967.5 1358,968 1363.5,967.8 1369.1,966.6 1374.7,965.5 1380.3,965.1 1385.8,965.5 1391.4,964.8 1397,963.8 1402.5,964.4 1408.1,965.5 1413.7,966.3 1419.3,966 1424.8,965.3 1430.4,964.3 1436,964.3 1441.6,965 1447.1,965 1452.7,964.7 1458.3,964.4 1463.8,964 1469.4,964.8 1475,965.3 1480.6,964.8 1486.1,964.8 1491.7,965 1497.3,962.8 1502.8,965.6 1508.4,965.9 1514,965.7 1519.6,965.3 1525.1,965.2 1530.7,964.2 1536.3,962 1541.8,960.9 1547.4,959.7 1553,960.7 1558.6,961.5 1564.1,960.5 1569.7,960 1575.3,959.8 1580.9,959 1586.4,958.2 1592,959.2 1597.6,959.7 1603.1,958.9 1608.7,957.9 1614.3,956.7 1619.9,955.1 1625.4,955 1631,955.5 1636.6,955.1 1642.1,954 1647.7,952.9 1653.3,952.3 1658.9,951.4 1664.4,949.6 1670,947.5 1675.6,945.7 1681.1,944.3 1686.7,942.2 1692.3,940.1 1697.9,937.6 1703.4,933.8 1709,928.4 1714.6,919.6 1720.2,910.7 1725.7,902.9 1731.3,898 1736.9,895.6 1743.1,892.6 1748,896.7 1753.6,900.5 1759.2,905.5 1764.7,912.5 1770.3,919.2 1775.9,923.9 1781.4,925.2 1787,926.1 1792.6,926.7 1798.2,925 1803.7,924 1809.3,922.6 1814.9,919.8 1820.4,916.2 1826,911.7 1831.6,905.3 1837.2,897 1842.7,888.4 1848.3,877.4 1853.9,864.5 1859.5,853.2 1866.9,841.2 1870.6,843.9 1876.2,850.3 1881.7,857.4 1887.3,866.2 1892.9,872.2 1898.5,876.2 1904,876.2 1909.6,871.3 1915.2,864.3 1920.7,852.8 1926.3,838.7 1931.9,819.9 1937.5,801 1943,785.6 1948.6,768.8 1954.2,742 1959.7,709.9 1965.3,673.9 1970.9,637.2 1976.5,612 1982,600.9 1987.6,600.6 1993.2,625.5 1998.8,663.3 2004.3,700.5 2009.9,734.1 2015.5,763.5 2021,789.1 2026.6,808.3 2032.2,822.4 2037.8,831.4 2043.3,837.8 2048.9,840.5 2054.5,841.5 2060,840.2 2065.6,838.5 2071.2,835.5 2076.8,833.4 2082.3,834.6 2087.9,841.4 2093.5,852.7 2099,865.9 2104.6,878.1 2110.2,888.9 2115.8,898.5 2121.3,906.7 2126.9,916 2132.5,923.9 2138.1,930 2143.6,934.9 2149.2,939.5 2154.8,943.7 2160.3,946.6 2165.9,948.5 2171.5,950.4 2177.1,952 2182.6,954 2188.2,956.8 2193.8,957.6 2199.3,957.7 2204.9,958.9 2210.5,958.9 2216.1,958.2 2221.6,957.7 2227.2,958.1 2232.8,959.8 2238.3,961.6 2243.9,962.1 2249.5,962.8 2255.1,963 2260.6,963.2 2266.2,963.1 2271.8,963.7 2277.4,964.7 2282.9,965.6 2288.5,966.2 2294.1,965.7 2299.6,964.9 2305.2,964.7 2310.8,965 2316.4,966.1 2321.9,967.1 2327.5,967.5 2333.1,967.6 2338.6,967.2 2344.2,966.6 2349.8,966.2 2355.4,965.9 2360.9,966.4 2366.5,967.7 2372.1,967.6 2377.6,967.7 2383.2,967.6 2388.8,966.7 2394.4,967.3 2399.9,967.2 2405.5,966.5 2411.1,966.3 2416.7,967 2422.2,968.3 2427.8,969.1 2433.4,968.9 2438.9,968.3 2444.5,967.8 2450.1,967.2 2455.7,966.6 2461.2,966.5 2465.2,965.9" stroke="#808080" stroke-width="8.8" />
<path d="M1352.4,976 1355.4,976 1358.4,976 1361.4,976 1364.4,976 1367.4,976 1370.4,976 1373.4,976 1376.4,976 1379.4,976 1382.4,976 1385.4,976 1388.4,976 1391.4,976 1394.4,975.9 1397.4,975.9 1400.4,975.9 1403.4,975.9 1406.4,975.9 1409.4,975.9 1412.4,975.9 1415.4,975.9 1418.4,975.9 1421.4,975.9 1424.4,975.9 1427.4,975.9 1430.4,975.9 1433.4,975.9 1436.4,975.8 1439.4,975.8 1442.4,975.8 1445.4,975.8 1448.4,975.8 1451.4,975.8 1454.4,975.8 1457.4,975.8 1460.4,975.8 1463.4,975.8 1466.4,975.7 1469.4,975.7 1472.4,975.7 1475.4,975.7 1478.4,975.7 1481.4,975.7 1484.4,975.7 1487.4,975.6 1490.4,975.6 1493.4,975.6 1496.4,975.6 1499.4,975.6 1502.4,975.6 1505.4,975.5 1508.4,975.5 1511.4,975.5 1514.4,975.5 1517.4,975.5 1520.4,975.4 1523.4,975.4 1526.4,975.4 1529.4,975.4 1532.4,975.3 1535.4,975.3 1538.4,975.3 1541.4,975.3 1544.4,975.2 1547.4,975.2 1550.4,975.2 1553.4,975.1 1556.4,975.1 1559.4,975 1562.4,975 1565.4,975 1568.4,974.9 1571.4,974.9 1574.4,974.8 1577.4,974.8 1580.4,974.7 1583.4,974.6 1586.4,974.6 1589.4,974.5 1592.4,974.4 1595.4,974.4 1598.4,974.3 1601.4,974.2 1604.4,974.1 1607.4,974 1610.4,973.9 1613.4,973.8 1616.4,973.7 1619.4,973.6 1622.4,973.5 1625.4,973.3 1628.4,973.2 1631.4,973 1634.4,972.8 1637.4,972.6 1640.4,972.4 1643.4,972.2 1646.4,972 1649.4,971.7 1652.4,971.4 1655.4,971.1 1658.4,970.8 1661.4,970.4 1664.4,970 1667.4,969.5 1670.4,969 1673.4,968.5 1676.4,967.8 1679.4,967.2 1682.4,966.4 1685.4,965.5 1688.4,964.5 1691.4,963.4 1694.4,962.2 1697.4,960.8 1700.4,959.1 1703.4,957.3 1706.4,955.2 1709.4,952.9 1712.4,950.2 1715.4,947.2 1718.4,943.8 1721.4,940.2 1724.4,936.3 1727.4,932.2 1730.4,928.3 1733.4,924.7 1736.4,921.8 1739.4,919.9 1742.4,919.3 1745.4,920 1748.4,922 1751.4,924.9 1754.4,928.5 1757.4,932.5 1760.4,936.5 1763.4,940.4 1766.4,944.1 1769.4,947.4 1772.4,950.4 1775.4,953 1778.4,955.4 1781.4,957.4 1784.4,959.3 1787.4,960.9 1790.4,962.3 1793.4,963.5 1796.4,964.6 1799.4,965.6 1802.4,966.4 1805.4,967.2 1808.4,967.9 1811.4,968.5 1814.4,969.1 1817.4,969.6 1820.4,970 1823.4,970.4 1826.4,970.8 1829.4,971.1 1832.4,971.4 1835.4,971.7 1838.4,972 1841.4,972.2 1844.4,972.4 1847.4,972.6 1850.4,972.8 1853.4,973 1856.4,973.2 1859.4,973.3 1862.4,973.5 1865.4,973.6 1868.4,973.7 1871.4,973.8 1874.4,973.9 1877.4,974 1880.4,974.1 1883.4,974.2 1886.4,974.3 1889.4,974.4 1892.4,974.4 1895.4,974.5 1898.4,974.6 1901.4,974.6 1904.4,974.7 1907.4,974.8 1910.4,974.8 1913.4,974.9 1916.4,974.9 1919.4,975 1922.4,975 1925.4,975 1928.4,975.1 1931.4,975.1 1934.4,975.2 1937.4,975.2 1940.4,975.2 1943.4,975.3 1946.4,975.3 1949.4,975.3 1952.4,975.3 1955.4,975.4 1958.4,975.4 1961.4,975.4 1964.4,975.4 1967.4,975.5 1970.4,975.5 1973.4,975.5 1976.4,975.5 1979.4,975.5 1982.4,975.6 1985.4,975.6 1988.4,975.6 1991.4,975.6 1994.4,975.6 1997.4,975.6 2000.4,975.7 2003.4,975.7 2006.4,975.7 2009.4,975.7 2012.4,975.7 2015.4,975.7 2018.4,975.7 2021.4,975.8 2024.4,975.8 2027.4,975.8 2030.4,975.8 2033.4,975.8 2036.4,975.8 2039.4,975.8 2042.4,975.8 2045.4,975.8 2048.4,975.8 2051.4,975.9 2054.4,975.9 2057.4,975.9 2060.4,975.9 2063.4,975.9 2066.4,975.9 2069.4,975.9 2072.4,975.9 2075.4,975.9 2078.4,975.9 2081.4,975.9 2084.4,975.9 2087.4,975.9 2090.4,975.9 2093.4,976 2096.4,976 2099.4,976 2102.4,976 2105.4,976 2108.4,976 2111.4,976 2114.4,976 2117.4,976 2120.4,976 2123.4,976 2126.4,976 2129.4,976 2132.4,976 2135.4,976 2138.4,976 2141.4,976 2144.4,976 2147.4,976 2150.4,976 2153.4,976 2156.4,976 2159.4,976.1 2162.4,976.1 2165.4,976.1 2168.4,976.1 2171.4,976.1 2174.4,976.1 2177.4,976.1 2180.4,976.1 2183.4,976.1 2186.4,976.1 2189.4,976.1 2192.4,976.1 2195.4,976.1 2198.4,976.1 2201.4,976.1 2204.4,976.1 2207.4,976.1 2210.4,976.1 2213.4,976.1 2216.4,976.1 2219.4,976.1 2222.4,976.1 2225.4,976.1 2228.4,976.1 2231.4,976.1 2234.4,976.1 2237.4,976.1 2240.4,976.1 2243.4,976.1 2246.4,976.1 2249.4,976.1 2252.4,976.1 2255.4,976.1 2258.4,976.1 2261.4,976.1 2264.4,976.1 2267.4,976.1 2270.4,976.1 2273.4,976.1 2276.4,976.1 2279.4,976.2 2282.4,976.2 2285.4,976.2 2288.4,976.2 2291.4,976.2 2294.4,976.2 2297.4,976.2 2300.4,976.2 2303.4,976.2 2306.4,976.2 2309.4,976.2 2312.4,976.2 2315.4,976.2 2318.4,976.2 2321.4,976.2 2324.4,976.2 2327.4,976.2 2330.4,976.2 2333.4,976.2 2336.4,976.2 2339.4,976.2 2342.4,976.2 2345.4,976.2 2348.4,976.2 2351.4,976.2 2354.4,976.2 2357.4,976.2 2360.4,976.2 2363.4,976.2 2366.4,976.2 2369.4,976.2 2372.4,976.2 2375.4,976.2 2378.4,976.2 2381.4,976.2 2384.4,976.2 2387.4,976.2 2390.4,976.2 2393.4,976.2 2396.4,976.2 2399.4,976.2 2402.4,976.2 2405.4,976.2 2408.4,976.2 2411.4,976.2 2414.4,976.2 2417.4,976.2 2420.4,976.2 2423.4,976.2 2426.4,976.2 2429.4,976.2 2432.4,976.2 2435.4,976.2 2438.4,976.2 2441.4,976.2 2444.4,976.2 2447.4,976.2 2450.4,976.2 2453.4,976.2 2456.4,976.2 2459.4,976.2 2462.4,976.2 2465.4,976.2" stroke="#00ff00" stroke-width="5.0" />
<path d="M1352.4,976.1 1355.4,976.1 1358.4,976.1 1361.4,976.1 1364.4,976.1 1367.4,976.1 1370.4,976.1 1373.4,976.1 1376.4,976.1 1379.4,976.1 1382.4,976 1385.4,976 1388.4,976 1391.4,976 1394.4,976 1397.4,976 1400.4,976 1403.4,976 1406.4,976 1409.4,976 1412.4,976 1415.4,976 1418.4,976 1421.4,976 1424.4,976 1427.4,976 1430.4,976 1433.4,976 1436.4,976 1439.4,976 1442.4,976 1445.4,976 1448.4,976 1451.4,976 1454.4,976 1457.4,975.9 1460.4,975.9 1463.4,975.9 1466.4,975.9 1469.4,975.9 1472.4,975.9 1475.4,975.9 1478.4,975.9 1481.4,975.9 1484.4,975.9 1487.4,975.9 1490.4,975.9 1493.4,975.9 1496.4,975.9 1499.4,975.9 1502.4,975.9 1505.4,975.8 1508.4,975.8 1511.4,975.8 1514.4,975.8 1517.4,975.8 1520.4,975.8 1523.4,975.8 1526.4,975.8 1529.4,975.8 1532.4,975.8 1535.4,975.8 1538.4,975.8 1541.4,975.7 1544.4,975.7 1547.4,975.7 1550.4,975.7 1553.4,975.7 1556.4,975.7 1559.4,975.7 1562.4,975.7 1565.4,975.7 1568.4,975.6 1571.4,975.6 1574.4,975.6 1577.4,975.6 1580.4,975.6 1583.4,975.6 1586.4,975.6 1589.4,975.5 1592.4,975.5 1595.4,975.5 1598.4,975.5 1601.4,975.5 1604.4,975.4 1607.4,975.4 1610.4,975.4 1613.4,975.4 1616.4,975.4 1619.4,975.3 1622.4,975.3 1625.4,975.3 1628.4,975.3 1631.4,975.2 1634.4,975.2 1637.4,975.2 1640.4,975.2 1643.4,975.1 1646.4,975.1 1649.4,975.1 1652.4,975 1655.4,975 1658.4,974.9 1661.4,974.9 1664.4,974.9 1667.4,974.8 1670.4,974.8 1673.4,974.7 1676.4,974.7 1679.4,974.6 1682.4,974.6 1685.4,974.5 1688.4,974.5 1691.4,974.4 1694.4,974.3 1697.4,974.3 1700.4,974.2 1703.4,974.1 1706.4,974 1709.4,973.9 1712.4,973.9 1715.4,973.8 1718.4,973.7 1721.4,973.6 1724.4,973.4 1727.4,973.3 1730.4,973.2 1733.4,973.1 1736.4,972.9 1739.4,972.8 1742.4,972.6 1745.4,972.4 1748.4,972.2 1751.4,972 1754.4,971.8 1757.4,971.5 1760.4,971.3 1763.4,971 1766.4,970.7 1769.4,970.4 1772.4,970 1775.4,969.6 1778.4,969.2 1781.4,968.7 1784.4,968.2 1787.4,967.6 1790.4,967 1793.4,966.3 1796.4,965.5 1799.4,964.7 1802.4,963.7 1805.4,962.6 1808.4,961.4 1811.4,960 1814.4,958.5 1817.4,956.7 1820.4,954.7 1823.4,952.4 1826.4,949.8 1829.4,946.8 1832.4,943.4 1835.4,939.6 1838.4,935.2 1841.4,930.3 1844.4,924.8 1847.4,919 1850.4,912.8 1853.4,906.8 1856.4,901.2 1859.4,896.6 1862.4,893.6 1865.4,892.5 1868.4,893.6 1871.4,896.6 1874.4,901.2 1877.4,906.8 1880.4,912.8 1883.4,919 1886.4,924.8 1889.4,930.3 1892.4,935.2 1895.4,939.6 1898.4,943.4 1901.4,946.8 1904.4,949.8 1907.4,952.4 1910.4,954.7 1913.4,956.7 1916.4,958.5 1919.4,960 1922.4,961.4 1925.4,962.6 1928.4,963.7 1931.4,964.7 1934.4,965.5 1937.4,966.3 1940.4,967 1943.4,967.6 1946.4,968.2 1949.4,968.7 1952.4,969.2 1955.4,969.6 1958.4,970 1961.4,970.4 1964.4,970.7 1967.4,971 1970.4,971.3 1973.4,971.5 1976.4,971.8 1979.4,972 1982.4,972.2 1985.4,972.4 1988.4,972.6 1991.4,972.8 1994.4,972.9 1997.4,973.1 2000.4,973.2 2003.4,973.3 2006.4,973.4 2009.4,973.6 2012.4,973.7 2015.4,973.8 2018.4,973.9 2021.4,973.9 2024.4,974 2027.4,974.1 2030.4,974.2 2033.4,974.3 2036.4,974.3 2039.4,974.4 2042.4,974.5 2045.4,974.5 2048.4,974.6 2051.4,974.6 2054.4,974.7 2057.4,974.7 2060.4,974.8 2063.4,974.8 2066.4,974.9 2069.4,974.9 2072.4,974.9 2075.4,975 2078.4,975 2081.4,975.1 2084.4,975.1 2087.4,975.1 2090.4,975.2 2093.4,975.2 2096.4,975.2 2099.4,975.2 2102.4,975.3 2105.4,975.3 2108.4,975.3 2111.4,975.3 2114.4,975.4 2117.4,975.4 2120.4,975.4 2123.4,975.4 2126.4,975.4 2129.4,975.5 2132.4,975.5 2135.4,975.5 2138.4,975.5 2141.4,975.5 2144.4,975.6 2147.4,975.6 2150.4,975.6 2153.4,975.6 2156.4,975.6 2159.4,975.6 2162.4,975.6 2165.4,975.7 2168.4,975.7 2171.4,975.7 2174.4,975.7 2177.4,975.7 2180.4,975.7 2183.4,975.7 2186.4,975.7 2189.4,975.7 2192.4,975.8 2195.4,975.8 2198.4,975.8 2201.4,975.8 2204.4,975.8 2207.4,975.8 2210.4,975.8 2213.4,975.8 2216.4,975.8 2219.4,975.8 2222.4,975.8 2225.4,975.8 2228.4,975.9 2231.4,975.9 2234.4,975.9 2237.4,975.9 2240.4,975.9 2243.4,975.9 2246.4,975.9 2249.4,975.9 2252.4,975.9 2255.4,975.9 2258.4,975.9 2261.4,975.9 2264.4,975.9 2267.4,975.9 2270.4,975.9 2273.4,975.9 2276.4,976 2279.4,976 2282.4,976 2285.4,976 2288.4,976 2291.4,976 2294.4,976 2297.4,976 2300.4,976 2303.4,976 2306.4,976 2309.4,976 2312.4,976 2315.4,976 2318.4,976 2321.4,976 2324.4,976 2327.4,976 2330.4,976 2333.4,976 2336.4,976 2339.4,976 2342.4,976 2345.4,976 2348.4,976 2351.4,976.1 2354.4,976.1 2357.4,976.1 2360.4,976.1 2363.4,976.1 2366.4,976.1 2369.4,976.1 2372.4,976.1 2375.4,976.1 2378.4,976.1 2381.4,976.1 2384.4,976.1 2387.4,976.1 2390.4,976.1 2393.4,976.1 2396.4,976.1 2399.4,976.1 2402.4,976.1 2405.4,976.1 2408.4,976.1 2411.4,976.1 2414.4,976.1 2417.4,976.1 2420.4,976.1 2423.4,976.1 2426.4,976.1 2429.4,976.1 2432.4,976.1 2435.4,976.1 2438.4,976.1 2441.4,976.1 2444.4,976.1 2447.4,976.1 2450.4,976.1 2453.4,976.1 2456.4,976.1 2459.4,976.1 2462.4,976.1 2465.4,976.1" stroke="#00ff00" stroke-width="5.0" />
<path d="M1352.4,975.6 1355.4,975.5 1358.4,975.5 1361.4,975.5 1364.4,975.5 1367.4,975.5 1370.4,975.5 1373.4,975.5 1376.4,975.5 1379.4,975.5 1382.4,975.5 1385.4,975.5 1388.4,975.5 1391.4,975.5 1394.4,975.4 1397.4,975.4 1400.4,975.4 1403.4,975.4 1406.4,975.4 1409.4,975.4 1412.4,975.4 1415.4,975.4 1418.4,975.4 1421.4,975.4 1424.4,975.4 1427.4,975.3 1430.4,975.3 1433.4,975.3 1436.4,975.3 1439.4,975.3 1442.4,975.3 1445.4,975.3 1448.4,975.3 1451.4,975.3 1454.4,975.2 1457.4,975.2 1460.4,975.2 1463.4,975.2 1466.4,975.2 1469.4,975.2 1472.4,975.2 1475.4,975.2 1478.4,975.1 1481.4,975.1 1484.4,975.1 1487.4,975.1 1490.4,975.1 1493.4,975.1 1496.4,975.1 1499.4,975 1502.4,975 1505.4,975 1508.4,975 1511.4,975 1514.4,975 1517.4,974.9 1520.4,974.9 1523.4,974.9 1526.4,974.9 1529.4,974.9 1532.4,974.8 1535.4,974.8 1538.4,974.8 1541.4,974.8 1544.4,974.8 1547.4,974.7 1550.4,974.7 1553.4,974.7 1556.4,974.7 1559.4,974.7 1562.4,974.6 1565.4,974.6 1568.4,974.6 1571.4,974.6 1574.4,974.5 1577.4,974.5 1580.4,974.5 1583.4,974.5 1586.4,974.4 1589.4,974.4 1592.4,974.4 1595.4,974.3 1598.4,974.3 1601.4,974.3 1604.4,974.2 1607.4,974.2 1610.4,974.2 1613.4,974.1 1616.4,974.1 1619.4,974.1 1622.4,974 1625.4,974 1628.4,974 1631.4,973.9 1634.4,973.9 1637.4,973.8 1640.4,973.8 1643.4,973.7 1646.4,973.7 1649.4,973.7 1652.4,973.6 1655.4,973.6 1658.4,973.5 1661.4,973.5 1664.4,973.4 1667.4,973.3 1670.4,973.3 1673.4,973.2 1676.4,973.2 1679.4,973.1 1682.4,973 1685.4,973 1688.4,972.9 1691.4,972.8 1694.4,972.8 1697.4,972.7 1700.4,972.6 1703.4,972.5 1706.4,972.5 1709.4,972.4 1712.4,972.3 1715.4,972.2 1718.4,972.1 1721.4,972 1724.4,971.9 1727.4,971.8 1730.4,971.7 1733.4,971.6 1736.4,971.5 1739.4,971.4 1742.4,971.2 1745.4,971.1 1748.4,971 1751.4,970.8 1754.4,970.7 1757.4,970.6 1760.4,970.4 1763.4,970.2 1766.4,970.1 1769.4,969.9 1772.4,969.7 1775.4,969.5 1778.4,969.3 1781.4,969.1 1784.4,968.9 1787.4,968.7 1790.4,968.5 1793.4,968.2 1796.4,968 1799.4,967.7 1802.4,967.4 1805.4,967.1 1808.4,966.8 1811.4,966.5 1814.4,966.1 1817.4,965.8 1820.4,965.4 1823.4,965 1826.4,964.6 1829.4,964.1 1832.4,963.7 1835.4,963.2 1838.4,962.6 1841.4,962.1 1844.4,961.5 1847.4,960.8 1850.4,960.2 1853.4,959.4 1856.4,958.7 1859.4,957.8 1862.4,957 1865.4,956 1868.4,955 1871.4,953.9 1874.4,952.7 1877.4,951.5 1880.4,950.1 1883.4,948.6 1886.4,947 1889.4,945.3 1892.4,943.4 1895.4,941.3 1898.4,939 1901.4,936.6 1904.4,933.8 1907.4,930.8 1910.4,927.5 1913.4,923.9 1916.4,919.8 1919.4,915.3 1922.4,910.2 1925.4,904.6 1928.4,898.3 1931.4,891.2 1934.4,883.2 1937.4,874.3 1940.4,864.1 1943.4,852.7 1946.4,839.8 1949.4,825.3 1952.4,809.1 1955.4,791 1958.4,771.3 1961.4,749.9 1964.4,727.4 1967.4,704.5 1970.4,682.4 1973.4,662.4 1976.4,646.2 1979.4,635.5 1982.4,631.4 1985.4,634.5 1988.4,644.4 1991.4,659.9 1994.4,679.5 1997.4,701.5 2000.4,724.4 2003.4,747 2006.4,768.5 2009.4,788.5 2012.4,806.8 2015.4,823.2 2018.4,837.9 2021.4,851 2024.4,862.7 2027.4,873 2030.4,882.1 2033.4,890.2 2036.4,897.4 2039.4,903.8 2042.4,909.5 2045.4,914.6 2048.4,919.2 2051.4,923.3 2054.4,927.1 2057.4,930.4 2060.4,933.5 2063.4,936.2 2066.4,938.7 2069.4,941 2072.4,943.1 2075.4,945 2078.4,946.8 2081.4,948.4 2084.4,949.9 2087.4,951.3 2090.4,952.6 2093.4,953.8 2096.4,954.9 2099.4,955.9 2102.4,956.8 2105.4,957.7 2108.4,958.6 2111.4,959.3 2114.4,960.1 2117.4,960.7 2120.4,961.4 2123.4,962 2126.4,962.6 2129.4,963.1 2132.4,963.6 2135.4,964.1 2138.4,964.5 2141.4,964.9 2144.4,965.3 2147.4,965.7 2150.4,966.1 2153.4,966.4 2156.4,966.8 2159.4,967.1 2162.4,967.4 2165.4,967.7 2168.4,967.9 2171.4,968.2 2174.4,968.4 2177.4,968.7 2180.4,968.9 2183.4,969.1 2186.4,969.3 2189.4,969.5 2192.4,969.7 2195.4,969.9 2198.4,970.1 2201.4,970.2 2204.4,970.4 2207.4,970.5 2210.4,970.7 2213.4,970.8 2216.4,971 2219.4,971.1 2222.4,971.2 2225.4,971.3 2228.4,971.5 2231.4,971.6 2234.4,971.7 2237.4,971.8 2240.4,971.9 2243.4,972 2246.4,972.1 2249.4,972.2 2252.4,972.3 2255.4,972.4 2258.4,972.5 2261.4,972.5 2264.4,972.6 2267.4,972.7 2270.4,972.8 2273.4,972.8 2276.4,972.9 2279.4,973 2282.4,973 2285.4,973.1 2288.4,973.2 2291.4,973.2 2294.4,973.3 2297.4,973.3 2300.4,973.4 2303.4,973.4 2306.4,973.5 2309.4,973.5 2312.4,973.6 2315.4,973.6 2318.4,973.7 2321.4,973.7 2324.4,973.8 2327.4,973.8 2330.4,973.9 2333.4,973.9 2336.4,974 2339.4,974 2342.4,974 2345.4,974.1 2348.4,974.1 2351.4,974.1 2354.4,974.2 2357.4,974.2 2360.4,974.2 2363.4,974.3 2366.4,974.3 2369.4,974.3 2372.4,974.4 2375.4,974.4 2378.4,974.4 2381.4,974.4 2384.4,974.5 2387.4,974.5 2390.4,974.5 2393.4,974.6 2396.4,974.6 2399.4,974.6 2402.4,974.6 2405.4,974.7 2408.4,974.7 2411.4,974.7 2414.4,974.7 2417.4,974.7 2420.4,974.8 2423.4,974.8 2426.4,974.8 2429.4,974.8 2432.4,974.8 2435.4,974.9 2438.4,974.9 2441.4,974.9 2444.4,974.9 2447.4,974.9 2450.4,975 2453.4,975 2456.4,975 2459.4,975 2462.4,975 2465.4,975" stroke="#00ff00" stroke-width="5.0" />
<path d="M1352.4,976.2 1355.4,976.2 1358.4,976.2 1361.4,976.2 1364.4,976.2 1367.4,976.2 1370.4,976.2 1373.4,976.2 1376.4,976.2 1379.4,976.2 1382.4,976.2 1385.4,976.2 1388.4,976.2 1391.4,976.2 1394.4,976.2 1397.4,976.2 1400.4,976.2 1403.4,976.2 1406.4,976.2 1409.4,976.2 1412.4,976.2 1415.4,976.2 1418.4,976.2 1421.4,976.2 1424.4,976.2 1427.4,976.2 1430.4,976.2 1433.4,976.2 1436.4,976.2 1439.4,976.2 1442.4,976.2 1445.4,976.2 1448.4,976.2 1451.4,976.2 1454.4,976.2 1457.4,976.1 1460.4,976.1 1463.4,976.1 1466.4,976.1 1469.4,976.1 1472.4,976.1 1475.4,976.1 1478.4,976.1 1481.4,976.1 1484.4,976.1 1487.4,976.1 1490.4,976.1 1493.4,976.1 1496.4,976.1 1499.4,976.1 1502.4,976.1 1505.4,976.1 1508.4,976.1 1511.4,976.1 1514.4,976.1 1517.4,976.1 1520.4,976.1 1523.4,976.1 1526.4,976.1 1529.4,976.1 1532.4,976.1 1535.4,976.1 1538.4,976.1 1541.4,976.1 1544.4,976.1 1547.4,976.1 1550.4,976.1 1553.4,976.1 1556.4,976.1 1559.4,976.1 1562.4,976.1 1565.4,976.1 1568.4,976.1 1571.4,976.1 1574.4,976.1 1577.4,976.1 1580.4,976.1 1583.4,976.1 1586.4,976.1 1589.4,976.1 1592.4,976.1 1595.4,976.1 1598.4,976 1601.4,976 1604.4,976 1607.4,976 1610.4,976 1613.4,976 1616.4,976 1619.4,976 1622.4,976 1625.4,976 1628.4,976 1631.4,976 1634.4,976 1637.4,976 1640.4,976 1643.4,976 1646.4,976 1649.4,976 1652.4,976 1655.4,976 1658.4,976 1661.4,976 1664.4,976 1667.4,976 1670.4,976 1673.4,975.9 1676.4,975.9 1679.4,975.9 1682.4,975.9 1685.4,975.9 1688.4,975.9 1691.4,975.9 1694.4,975.9 1697.4,975.9 1700.4,975.9 1703.4,975.9 1706.4,975.9 1709.4,975.9 1712.4,975.9 1715.4,975.9 1718.4,975.9 1721.4,975.8 1724.4,975.8 1727.4,975.8 1730.4,975.8 1733.4,975.8 1736.4,975.8 1739.4,975.8 1742.4,975.8 1745.4,975.8 1748.4,975.8 1751.4,975.8 1754.4,975.8 1757.4,975.7 1760.4,975.7 1763.4,975.7 1766.4,975.7 1769.4,975.7 1772.4,975.7 1775.4,975.7 1778.4,975.7 1781.4,975.7 1784.4,975.6 1787.4,975.6 1790.4,975.6 1793.4,975.6 1796.4,975.6 1799.4,975.6 1802.4,975.6 1805.4,975.5 1808.4,975.5 1811.4,975.5 1814.4,975.5 1817.4,975.5 1820.4,975.4 1823.4,975.4 1826.4,975.4 1829.4,975.4 1832.4,975.4 1835.4,975.3 1838.4,975.3 1841.4,975.3 1844.4,975.3 1847.4,975.2 1850.4,975.2 1853.4,975.2 1856.4,975.2 1859.4,975.1 1862.4,975.1 1865.4,975.1 1868.4,975 1871.4,975 1874.4,974.9 1877.4,974.9 1880.4,974.9 1883.4,974.8 1886.4,974.8 1889.4,974.7 1892.4,974.7 1895.4,974.6 1898.4,974.6 1901.4,974.5 1904.4,974.5 1907.4,974.4 1910.4,974.3 1913.4,974.3 1916.4,974.2 1919.4,974.1 1922.4,974 1925.4,973.9 1928.4,973.9 1931.4,973.8 1934.4,973.7 1937.4,973.6 1940.4,973.4 1943.4,973.3 1946.4,973.2 1949.4,973 1952.4,972.9 1955.4,972.7 1958.4,972.6 1961.4,972.4 1964.4,972.2 1967.4,972 1970.4,971.8 1973.4,971.5 1976.4,971.3 1979.4,971 1982.4,970.7 1985.4,970.3 1988.4,970 1991.4,969.6 1994.4,969.1 1997.4,968.7 2000.4,968.1 2003.4,967.6 2006.4,966.9 2009.4,966.2 2012.4,965.4 2015.4,964.5 2018.4,963.6 2021.4,962.4 2024.4,961.2 2027.4,959.8 2030.4,958.2 2033.4,956.4 2036.4,954.3 2039.4,951.9 2042.4,949.2 2045.4,946 2048.4,942.4 2051.4,938.3 2054.4,933.6 2057.4,928.2 2060.4,922.3 2063.4,915.8 2066.4,909 2069.4,902.1 2072.4,895.8 2075.4,890.6 2078.4,887.2 2081.4,886 2084.4,887.3 2087.4,890.9 2090.4,896.2 2093.4,902.6 2096.4,909.4 2099.4,916.3 2102.4,922.7 2105.4,928.6 2108.4,933.9 2111.4,938.6 2114.4,942.7 2117.4,946.2 2120.4,949.4 2123.4,952.1 2126.4,954.4 2129.4,956.5 2132.4,958.3 2135.4,959.9 2138.4,961.3 2141.4,962.5 2144.4,963.6 2147.4,964.6 2150.4,965.5 2153.4,966.3 2156.4,967 2159.4,967.6 2162.4,968.2 2165.4,968.7 2168.4,969.2 2171.4,969.6 2174.4,970 2177.4,970.4 2180.4,970.7 2183.4,971 2186.4,971.3 2189.4,971.5 2192.4,971.8 2195.4,972 2198.4,972.2 2201.4,972.4 2204.4,972.6 2207.4,972.8 2210.4,972.9 2213.4,973.1 2216.4,973.2 2219.4,973.3 2222.4,973.4 2225.4,973.6 2228.4,973.7 2231.4,973.8 2234.4,973.9 2237.4,974 2240.4,974 2243.4,974.1 2246.4,974.2 2249.4,974.3 2252.4,974.3 2255.4,974.4 2258.4,974.5 2261.4,974.5 2264.4,974.6 2267.4,974.6 2270.4,974.7 2273.4,974.7 2276.4,974.8 2279.4,974.8 2282.4,974.9 2285.4,974.9 2288.4,975 2291.4,975 2294.4,975 2297.4,975.1 2300.4,975.1 2303.4,975.1 2306.4,975.2 2309.4,975.2 2312.4,975.2 2315.4,975.2 2318.4,975.3 2321.4,975.3 2324.4,975.3 2327.4,975.3 2330.4,975.4 2333.4,975.4 2336.4,975.4 2339.4,975.4 2342.4,975.4 2345.4,975.5 2348.4,975.5 2351.4,975.5 2354.4,975.5 2357.4,975.5 2360.4,975.6 2363.4,975.6 2366.4,975.6 2369.4,975.6 2372.4,975.6 2375.4,975.6 2378.4,975.6 2381.4,975.7 2384.4,975.7 2387.4,975.7 2390.4,975.7 2393.4,975.7 2396.4,975.7 2399.4,975.7 2402.4,975.7 2405.4,975.7 2408.4,975.8 2411.4,975.8 2414.4,975.8 2417.4,975.8 2420.4,975.8 2423.4,975.8 2426.4,975.8 2429.4,975.8 2432.4,975.8 2435.4,975.8 2438.4,975.8 2441.4,975.8 2444.4,975.9 2447.4,975.9 2450.4,975.9 2453.4,975.9 2456.4,975.9 2459.4,975.9 2462.4,975.9 2465.4,975.9" stroke="#00ff00" stroke-width="5.0" />
<line x1="1352.4" y1="976.3" x2="2465.2" y2="976.3" stroke="#00ff00" stroke-width="5.2"/>
<path d="M1815.6,112.1 1872.1,264.6 1919.5,411 1981,596" stroke="#c0c0c0" stroke-width="5.6" stroke-dasharray="17.5 13.2 1.2 13.2" stroke-dashoffset="0"/>
<path d="M1571,402 1629.9,575.5 1681.2,729.5 1738.6,889.5" stroke="#c0c0c0" stroke-width="5.6" stroke-dasharray="17.5 13.2 1.2 13.2" stroke-dashoffset="0"/>
</g>
<g id="panel-c-curves" clip-path="url(#cc)" fill="none" stroke-linejoin="round">
<path d="M1352.4,1640.5 1356.5,1640.1 1360.5,1641 1364.6,1637.9 1368.6,1639.6 1372.7,1638.4 1376.7,1640.2 1380.8,1651 1385.3,1646.4 1388.9,1645.3 1392.9,1644.9 1397,1641.6 1401,1637 1406.4,1638.8 1409.1,1643.7 1413.2,1641.2 1418.5,1644.8 1421.3,1644.3 1425.4,1640.4 1429.4,1637.8 1433.5,1635.1 1437.5,1642.4 1441.6,1644.3 1445.6,1637 1449.7,1638.8 1453.7,1639.4 1457.8,1639 1461.8,1643.7 1465.9,1647.9 1469.9,1647.8 1475.9,1652.4 1478,1654.1 1482.1,1653.7 1486.1,1647.7 1491,1646.4 1494.2,1647.2 1498.3,1651.1 1502.4,1649.8 1506.4,1649.5 1510.5,1648 1514.5,1649.7 1518.6,1647 1522.6,1642.5 1526.7,1647.4 1530.7,1637.9 1534.8,1634.7 1538.8,1632.1 1542.9,1639.2 1546.9,1640.9 1551,1635.2 1555,1637.4 1559.1,1635.8 1563.1,1626.7 1567.2,1622.1 1571.3,1619.2 1575.3,1628.8 1579.4,1619.4 1583.4,1617.7 1587.5,1614.2 1591.5,1610.7 1595.6,1614.5 1599.6,1601.2 1603.7,1598.9 1607.7,1600.2 1611.8,1591 1615.8,1592.5 1619.9,1592.2 1623.9,1587 1628,1585 1631.4,1582.9 1636.1,1585.3 1640.1,1590.7 1644.2,1588.8 1648.3,1586.9 1654,1596.5 1656.4,1590.3 1660.4,1590.1 1663.1,1590.5 1668.5,1601 1672.6,1595 1676.6,1601.3 1680.7,1591.3 1684.7,1602.4 1690.3,1604.1 1692.8,1601.6 1696.9,1594.3 1700.9,1591.1 1705,1594.8 1709,1590.9 1713.1,1600.1 1717.2,1581.4 1721.2,1577.6 1725.3,1577.4 1729.3,1577.9 1733.4,1575.2 1737.4,1573.3 1741.5,1564.5 1745.5,1559.5 1749.6,1557.8 1753.6,1555.7 1757.7,1553.9 1761.7,1542.1 1765.8,1545.6 1769.8,1529.5 1773.9,1523.8 1777.9,1508.6 1782,1515.8 1786,1499.5 1790.1,1497.7 1794.2,1481.8 1798.2,1469.9 1802.3,1463.6 1806.3,1453.9 1810.4,1458.7 1814.4,1454.6 1818.5,1459.3 1822.5,1460.6 1826.6,1453.3 1832.2,1462.2 1834.7,1460.3 1838.7,1454 1842.8,1456.3 1846.8,1457 1850.9,1443.4 1854.9,1433 1859,1420.7 1863.1,1404.7 1867.1,1397.3 1871.2,1384.9 1875.2,1377.3 1880.5,1353.5 1883.3,1352.7 1887.4,1355.4 1891.4,1357.6 1895.5,1349.8 1899.5,1354.6 1903.6,1345.8 1907.6,1337 1911.7,1323.9 1915.7,1318.2 1919.8,1308.5 1923.8,1299.6 1927.9,1277.7 1932,1255.8 1936,1243.9 1940.1,1231.5 1944.1,1221.8 1948.2,1204.9 1952.2,1201.2 1956.9,1202.5 1960.3,1206.3 1964.4,1210.3 1968.4,1223 1972.5,1241.2 1976.5,1247 1980.6,1269.1 1984.6,1285.6 1988.7,1333.3 1992.7,1368.5 1996.8,1393.4 2000.8,1413.9 2004.9,1448.5 2009,1461 2013,1476.6 2017.1,1496.6 2021.1,1505 2025.2,1522.9 2029.2,1535.8 2033.3,1551.4 2037.3,1560.1 2041.4,1568.2 2045.4,1570.3 2049.5,1572.9 2053.5,1575.6 2057.6,1585.5 2061.6,1600.4 2065.7,1608.5 2069.7,1602.6 2073.8,1606.2 2077.9,1601.4 2081.9,1603.4 2086,1615.8 2090,1609.7 2094.1,1622.5 2098.1,1623.3 2100.4,1628.2 2107.9,1616.2 2110.3,1617.8 2114.3,1627.4 2118.4,1627.8 2122.4,1630.5 2126.5,1634.5 2130.5,1634.4 2134.6,1640.3 2138.6,1637.4 2142.7,1634.3 2146.7,1640.2 2150.8,1648.9 2154.9,1643.4 2158.9,1641.1 2163,1647.8 2167,1641.5 2171.1,1641.6 2175.1,1648.4 2179.2,1652.4 2183.2,1654.2 2187.3,1650.3 2191.3,1652.3 2194,1655.4 2199.4,1652.7 2203.5,1645 2206,1646.4 2211.6,1645.7 2215.6,1651.1 2218.1,1652.4 2224.2,1643.3 2227.8,1648.5 2230.2,1656.9 2235.9,1657.3 2240,1651.3 2244,1638.9 2249.8,1637.3 2252.1,1645.6 2256.2,1649.6 2260.2,1648.4 2264.3,1651.4 2268.3,1654.5 2272.4,1645.9 2276.4,1651 2280.5,1655.5 2284.5,1646.4 2287.6,1647.9 2292.6,1653 2296.7,1652.8 2299.6,1655.4 2304.8,1653.4 2308.9,1647.8 2314.7,1643.3 2317,1642.2 2321,1655.6 2323.8,1655.4 2329.1,1653 2333.2,1654.1 2337.2,1647.7 2341.3,1652.1 2345.3,1648.6 2349.4,1646.6 2353.4,1643.1 2357.5,1640.5 2361.5,1636.7 2365.6,1640.5 2369.7,1638.1 2373.6,1634.3 2377.8,1645.6 2381.2,1655.4 2385.9,1647.6 2389.9,1649.5 2394,1643.5 2398,1640.2 2402.1,1635.4 2406.1,1636.7 2410.2,1636.3 2414.2,1634.2 2417.4,1634.3 2422.3,1644.5 2426.4,1640.3 2430.4,1647.8 2434.5,1638.6 2438.6,1640.1 2442.6,1643.2 2446.7,1651.8 2450.6,1655.4 2454.8,1639.3 2458.8,1633.8 2462.9,1636.1 2465.2,1641.1" stroke="#ff8000" stroke-width="9.2" />
<path d="M1352.4,1789.4 1356.5,1793.6 1360.5,1791.7 1364.6,1789.3 1368.6,1790.6 1372.7,1788.8 1376.7,1791.4 1380.8,1795.4 1384.8,1793.3 1389.8,1798.2 1392.9,1792.5 1397,1795.1 1400.4,1784.6 1405.1,1787.1 1409.1,1784.7 1413.2,1788.4 1418.5,1789.1 1421.3,1789.8 1425.4,1786.7 1429.4,1788.5 1433.5,1785.5 1436.6,1783.1 1441.6,1785.5 1445.6,1784.1 1449.7,1787.2 1453.7,1786.1 1457.8,1787 1461.8,1785.3 1465.9,1786.8 1469.8,1778.5 1474,1780.1 1478.9,1790.6 1482.1,1801.7 1486.1,1785.6 1490.2,1785.8 1494,1786.1 1498.3,1788.9 1502.4,1793.7 1504.6,1793.6 1510.5,1788 1514.5,1790.3 1518.6,1781.7 1521.2,1783.1 1526.7,1785.4 1530.7,1781.7 1534.8,1786.5 1538.8,1784.8 1542.9,1794.8 1546.9,1792.2 1551,1790.3 1555,1782.7 1557.4,1780 1563.1,1783.3 1567.2,1784.7 1569.5,1786.1 1575.3,1780.3 1579.4,1781.8 1583.4,1776 1587.5,1762.9 1590.6,1761.9 1596.7,1783.1 1599.6,1769.3 1603.7,1753 1607.7,1755.2 1611.8,1762.4 1615.8,1755.5 1619.9,1766.4 1623.9,1758.4 1629.9,1757.4 1632,1760.7 1636.1,1757.7 1640.1,1761.6 1644.2,1761.8 1648.3,1766.9 1652.3,1765.9 1656.4,1763 1660.1,1760.4 1664.5,1769.6 1668.5,1776.6 1672.6,1774.8 1676.6,1772.4 1680.7,1778.1 1684.7,1771.1 1688.8,1764.5 1692.8,1766.1 1696.9,1760.4 1700.9,1751.9 1705,1749.2 1709,1754 1713.1,1754.2 1717.2,1757.5 1721.2,1758.6 1725.3,1750.2 1729.3,1744.5 1733.4,1734.8 1737.4,1733.5 1741.5,1736.3 1745.5,1731.2 1749.6,1725.9 1753.6,1730.9 1757.7,1722.9 1761.7,1721.4 1765.8,1716 1769.8,1718.9 1773.9,1710.6 1777.9,1713.7 1782,1709.6 1786,1697 1790.1,1692.7 1794.2,1688 1798.2,1697 1802.3,1684.1 1806.3,1677.5 1810.4,1663.4 1814.4,1650.5 1818.5,1652.4 1822.5,1646.1 1826.6,1656.6 1830.6,1645 1835.2,1644.2 1838.7,1645.8 1844.3,1648.7 1846.8,1650.9 1850.3,1642.6 1854.8,1662.3 1859,1647.8 1863.1,1630.1 1867.1,1621.5 1871.2,1621.7 1875.2,1610.4 1879.3,1598.1 1883.3,1599.9 1887.4,1588.9 1892.6,1570.9 1895.5,1576.5 1899.5,1576.5 1901.7,1575.4 1907.6,1564.6 1911.7,1571.7 1915.7,1573.7 1919.8,1564.5 1923.8,1552.2 1927.9,1544.5 1932,1543.4 1936,1540.6 1940.1,1526.6 1944.1,1506.7 1948.2,1498.4 1952.2,1467.6 1956.3,1444.5 1960.3,1426.8 1964.4,1396.8 1968.4,1378.5 1972.5,1353.6 1976.5,1332.4 1980.6,1331.9 1984.6,1320.6 1988,1306.6 1992.7,1319 1996.8,1326.4 2000.8,1357.7 2004.9,1384.2 2009,1422.2 2013,1440.6 2017.1,1469 2021.1,1496.4 2025.2,1517.3 2029.2,1544.3 2033.3,1573.5 2037.3,1597 2041.4,1613.7 2045.4,1626.7 2049.5,1638.5 2053.5,1651.5 2057.6,1667.5 2061.6,1680.4 2065.7,1691.3 2069.7,1711.5 2073.8,1716.4 2077.9,1720.3 2081.9,1731.6 2086,1739.6 2090,1746.1 2094.1,1751.4 2098.1,1756.8 2102.2,1760.5 2106.2,1770.8 2110.3,1761.9 2114.3,1765.7 2118.4,1766.7 2122.4,1770.4 2126.5,1776.3 2130.5,1775.9 2134.6,1779.4 2139.6,1786.1 2142.7,1778.7 2145.6,1777 2150.8,1782.4 2154.9,1789.6 2157.7,1787.6 2163,1786.9 2167,1783.9 2169.8,1780 2175.1,1784.3 2179.2,1797.5 2183.2,1789.8 2187.3,1786.1 2191.3,1793.3 2195.4,1788 2199.4,1795.7 2203.5,1798 2206,1798.2 2211.6,1798.8 2215.6,1793.9 2219.7,1790.3 2224.2,1786.1 2227.8,1790 2231.9,1803 2235.9,1802.9 2239.3,1805.7 2244,1807 2248.3,1796.6 2252.1,1793 2256.2,1801.7 2260.2,1799.5 2264.3,1800.1 2268.3,1810.4 2272.4,1812 2277,1810.2 2280.5,1806.4 2284.5,1795.1 2288.6,1795.3 2292.6,1802.1 2296.7,1801.4 2300.8,1803.4 2304.8,1799.3 2308.9,1804.4 2312.9,1802.5 2317,1807.3 2321,1804.5 2326.8,1810.2 2329.1,1805 2333.2,1804.2 2337.2,1793.6 2341.3,1798.8 2344.9,1792.1 2349.4,1790 2353.4,1796.4 2357,1798.2 2361.5,1797.5 2365.6,1781.8 2369.1,1786.1 2373.7,1787.1 2377.8,1795.2 2381.2,1798.2 2385.9,1806.2 2389.9,1792.7 2394,1788.3 2398,1789.4 2402.1,1789 2406.1,1796.2 2410.2,1794.4 2414.2,1785.9 2418.3,1779.5 2422.3,1784.9 2426.4,1782.2 2429.5,1783.1 2434.5,1784.7 2438.6,1789.1 2444.6,1783.1 2446.7,1783.3 2450.7,1797.8 2453.7,1798.2 2458.8,1786.2 2462.9,1773 2465.2,1773.8" stroke="#ff0000" stroke-width="9.2" />
<path d="M1352.4,1949.9 1356.5,1945 1360.5,1943.6 1364.6,1944.6 1368.6,1944.2 1372.7,1944.3 1376.7,1942.8 1380.8,1948.9 1384.8,1944.7 1388.9,1947.2 1392.9,1946.7 1397,1946.6 1401,1949.2 1405.1,1952.7 1409.1,1947.9 1413.2,1942.2 1418.5,1943.1 1421.3,1946.5 1425.4,1945.2 1429.4,1952.2 1433.6,1953.7 1437.5,1949.8 1442.7,1940.1 1445.6,1941.9 1449.7,1941.9 1453.7,1945.5 1457.8,1947.6 1461.8,1946.6 1465.9,1945.5 1469.9,1939.8 1472.9,1940.1 1478,1938.8 1482.1,1948.3 1488,1946.1 1491,1937.1 1494.2,1940 1498.3,1938 1502.4,1940.4 1506.4,1938.4 1510.5,1941.5 1514.5,1940 1518.6,1942.7 1522.6,1937.8 1526.7,1935.1 1530.7,1932 1534.8,1934.3 1538.8,1929.1 1542.9,1928.4 1546.9,1924.8 1551.4,1925 1555,1923.8 1559.1,1925 1563.5,1931 1567.2,1929.1 1571.3,1927.1 1575.3,1928.4 1579.4,1926.4 1583.4,1924.3 1587.5,1926.5 1591.5,1920.3 1595.6,1924.6 1599.6,1920.4 1603.7,1918.4 1607.7,1903.1 1611.8,1905.4 1615.8,1908.8 1619.9,1913.2 1623.9,1914.2 1628,1916.2 1632,1926.2 1635.9,1926.5 1640.1,1920.4 1644.2,1923.3 1648.3,1923.2 1652.3,1922.9 1656.4,1918.2 1660.4,1922.8 1664.5,1924.2 1668.5,1926.1 1672.6,1932 1676.6,1936.1 1681.2,1937.1 1684.7,1937.8 1690.3,1928 1692.8,1934.3 1696.9,1928.8 1699.3,1932.5 1705,1928.3 1709,1930.9 1713.1,1930.6 1717.2,1926.8 1721.2,1931.3 1725.3,1925.9 1729.3,1921.1 1733.4,1916.8 1735.6,1914.4 1741.5,1917.9 1745.5,1920.1 1747.6,1918.9 1753.6,1918 1757.7,1915 1761.7,1916.2 1765.8,1917.4 1769.8,1914.3 1773.9,1906.4 1777.9,1908.8 1782,1902.2 1786,1896.3 1790.1,1892.9 1794.2,1893 1798.2,1887.5 1802.3,1880.2 1806.3,1874.4 1810.4,1869.2 1814.4,1867.3 1818.5,1860.2 1822.5,1852.1 1826.6,1853.3 1830.6,1842.3 1834.7,1845.8 1838.7,1851.1 1842.8,1848.9 1846.8,1840.9 1850.9,1842.5 1854.9,1838.5 1859,1840 1863.1,1836.5 1867.1,1837.1 1871.2,1829.7 1875.2,1819.8 1879.3,1807.4 1883.3,1802.3 1887.4,1795.1 1891.4,1783.2 1895.5,1780.6 1899.5,1769.3 1903.6,1755.7 1907.6,1758.4 1910.7,1754.4 1915.7,1760.8 1919.8,1760.2 1923.8,1759 1927.9,1758.8 1932,1755.6 1936,1754.6 1940.1,1750.5 1944.1,1755.3 1948.2,1750.9 1952.2,1747.7 1956.3,1740 1960.3,1721.8 1964.4,1703.5 1968.4,1693.6 1972.5,1663.7 1976.5,1639 1980.6,1613.6 1984.6,1583.7 1988.7,1551.1 1992.7,1516.6 1996.8,1490.3 2000.8,1455.2 2004.9,1424.5 2009,1399.8 2012.2,1388.2 2017.1,1402.5 2021.1,1415.2 2025.2,1437.1 2029.2,1468.5 2033.3,1508.2 2037.3,1572.5 2041.4,1612.2 2045.4,1658.4 2049.5,1711.3 2053.5,1754.6 2057.6,1794.4 2061.6,1823.6 2065.7,1831.6 2069.7,1844.2 2073.8,1856.4 2077.9,1875 2081.9,1882 2086,1888.1 2090,1893 2094.1,1897.8 2098.1,1904.4 2102.2,1904.8 2106.2,1914.7 2110.3,1914.5 2114.3,1915.9 2118.4,1915.7 2122.4,1922.4 2126.5,1929.5 2130.5,1925.9 2134.6,1932.2 2138.6,1928.3 2142.7,1930.1 2146.7,1936.8 2150.8,1934.5 2154.9,1938.8 2158.9,1940.5 2163,1939.6 2167,1939.8 2171.1,1939.6 2175.1,1945.8 2179.2,1947.3 2183.2,1946 2187.3,1946.7 2191.3,1945.9 2195.4,1948 2199.4,1947.2 2203.5,1946.1 2207.5,1947.3 2211.6,1948.5 2215.6,1950.2 2219.7,1952 2224.2,1953.7 2227.8,1954.8 2231.9,1951 2235.9,1952.1 2240,1950 2244,1952.4 2248.1,1947.7 2252.1,1947.8 2256.2,1949.5 2260.2,1949.8 2264.3,1949.4 2268.3,1950.8 2272.4,1953.6 2276.4,1953.3 2280.5,1950.9 2284.5,1953.1 2288.6,1960 2292.6,1955.1 2296.7,1955.9 2300.8,1954.1 2304.8,1952.6 2308.9,1952.2 2312.9,1954.4 2317,1951.4 2321,1949.8 2325.1,1952.1 2329.8,1958.2 2333.2,1953 2337.2,1958.8 2341.3,1948.9 2344.9,1950.6 2349.4,1957.3 2353.4,1959.9 2357,1959.7 2361.5,1959.5 2365.6,1954.1 2369.7,1957.3 2375.1,1949.1 2377.8,1951.9 2381.8,1952.9 2385.9,1954.7 2389.9,1956 2394,1955.7 2398,1958.5 2402.1,1954.2 2406.1,1959.7 2410.2,1954 2414.2,1953.1 2418.3,1955.8 2422.3,1957.1 2426.4,1955 2430.4,1955.4 2434.5,1953 2438.6,1952.3 2442.6,1953 2446.7,1951.1 2450.7,1952 2454.8,1953 2458.8,1949.7 2462.9,1958.9 2465.2,1950" stroke="#0000ff" stroke-width="9.2" />
<path d="M1352.4,2085.6 1356.5,2084 1360.5,2082.7 1364.6,2085.4 1368.6,2085.3 1372.7,2082.5 1376.7,2085.7 1380.8,2086.9 1384.8,2085.4 1388.9,2085.1 1392.9,2085.5 1397,2082.4 1401,2081.9 1405.1,2083.1 1409.1,2084.4 1413.2,2090 1417.2,2081.6 1421.3,2088.8 1425.4,2082.8 1429.4,2085.1 1433.5,2085.5 1437.5,2081.9 1441.6,2084.5 1445.6,2086.9 1449.7,2083.2 1453.7,2086.9 1457.8,2082.1 1461.8,2083.7 1465.9,2087 1469.9,2082.6 1474,2082 1478,2086 1482.1,2084.2 1486.1,2087 1490.2,2080.9 1494.2,2084.3 1498.3,2086.6 1502.4,2085.9 1506.4,2085.8 1510.5,2082.2 1514.5,2082.7 1518.6,2078.9 1522.6,2077 1526.7,2078.1 1530.7,2072 1534.8,2073.9 1538.8,2073.6 1542.9,2072.2 1546.9,2066.8 1551,2071.2 1555,2070.2 1559.1,2065.1 1563.1,2063.4 1567.2,2063 1571.3,2058.8 1575.3,2062.2 1579.4,2061.1 1583.4,2058.7 1587.5,2058.5 1591.5,2054.2 1595.6,2057.3 1599.6,2057.4 1603.7,2050 1607.7,2054.5 1611.8,2058.2 1615.8,2057 1619.9,2057.3 1623.9,2059.8 1628,2061.9 1632,2056.6 1636.1,2054.9 1640.1,2056.9 1644.2,2053.7 1648.3,2057.6 1652.3,2058.2 1656.4,2061.2 1660.4,2060.5 1664.5,2068.1 1668.5,2065.9 1672.6,2068.8 1676.6,2064.4 1680.7,2064.2 1684.7,2066.4 1688.8,2066.5 1692.8,2068.3 1696.9,2068.6 1700.9,2070.9 1705,2071.3 1709,2070.5 1713.1,2068.4 1717.2,2066.9 1721.2,2066 1725.3,2064.2 1729.3,2067.1 1733.4,2063 1737.4,2058.8 1741.5,2062.9 1745.5,2060.1 1749.6,2055.2 1753.6,2057.5 1757.7,2052.9 1761.7,2050.1 1765.8,2046.9 1769.8,2049.9 1773.9,2044.5 1777.9,2045.3 1782,2040.4 1786,2041.8 1790.1,2036.2 1794.2,2038.1 1798.2,2035.5 1802.3,2034.4 1806.3,2031 1810.4,2033.9 1814.4,2030.9 1818.5,2022.9 1822.5,2014.7 1826.6,2015.6 1830.6,2010 1834.7,2004.5 1838.7,2006.6 1842.8,2006.3 1846.8,2006.5 1850.9,2004.8 1854.9,2001.7 1859,1998 1863.1,1995.9 1867.1,1997.1 1871.2,1989.1 1875.2,1984.4 1879.3,1981.9 1883.3,1982.8 1887.4,1979 1891.4,1974.4 1895.5,1967.3 1899.5,1962.2 1903.6,1957.9 1907.6,1951 1911.7,1950.8 1915.7,1945.9 1919.8,1941 1923.8,1938.1 1927.9,1942.5 1932,1938.5 1936,1941.5 1940.1,1939.2 1944.1,1943.7 1948.2,1945.1 1952.2,1952.5 1956.3,1959.6 1960.3,1960.5 1964.4,1963.1 1968.4,1965.4 1972.5,1957.2 1976.5,1967.3 1979.6,1967.3 1984.6,1967 1988.7,1956.4 1992.7,1939.8 1996.8,1939.5 2000.8,1928.3 2004.9,1913.8 2009,1896.3 2013,1860.8 2017.1,1810.2 2021.1,1754 2025.2,1692.8 2029.2,1643 2033.3,1578.5 2037.3,1533.8 2041.4,1519.3 2044.6,1511.1 2049.5,1525.4 2053.5,1563.3 2057.6,1618.5 2061.6,1681.1 2065.7,1734.2 2069.7,1786.8 2073.8,1833.8 2077.9,1884 2081.9,1931.8 2086,1968.4 2090,1991.3 2094.1,1996.9 2098.1,2007.5 2102.2,2022.5 2106.2,2032 2110.3,2041.7 2114.3,2043.1 2118.4,2048.1 2122.4,2052.3 2126.5,2055.4 2130.5,2055.8 2134.6,2060.6 2138.6,2061.8 2142.7,2059.4 2146.7,2064.4 2150.8,2062.7 2154.9,2065.6 2158.9,2072.2 2163,2073.1 2167,2079.2 2171.1,2075.4 2175.1,2075.7 2179.2,2080.2 2183.2,2078.5 2187.3,2082 2191.3,2079.5 2195.4,2081.6 2199.4,2081 2203.5,2075.3 2208.2,2071.4 2211.6,2080.5 2215.6,2083 2219.7,2081.4 2223.8,2085.3 2227.8,2084.2 2231.9,2085.8 2235.9,2085.9 2240,2080.1 2244,2084.6 2248.1,2085.5 2252.1,2087.5 2256.2,2088.2 2260.2,2089.4 2264.3,2089.2 2268.3,2084.4 2272.4,2091.2 2276.4,2089.7 2280.5,2087.3 2284.5,2090.8 2288.6,2086.1 2292.6,2087.9 2296.7,2085.2 2300.8,2093.5 2304.8,2086.2 2308.9,2089.1 2312.9,2085.4 2317,2088.1 2321,2091 2325.1,2084.9 2329.1,2086.2 2332.9,2085 2337.2,2092.9 2341.3,2095.2 2345.3,2088.8 2349.4,2091.4 2353.4,2088.2 2357.5,2089.9 2361.5,2085.9 2365.6,2090.6 2369.7,2088.9 2373.7,2092.4 2377.8,2094.3 2381.8,2089.9 2385.9,2090.9 2389.9,2089.5 2394,2088.8 2398,2090 2402.1,2084.1 2406.1,2083.5 2410.2,2089.5 2414.2,2086.8 2418.9,2085 2422.3,2088.5 2426.4,2085.8 2430.4,2089.6 2434.5,2088 2438.6,2086.8 2442.6,2085 2446.7,2090.5 2450.7,2089.6 2454.8,2087.4 2458.8,2085.6 2462.9,2090.8 2465.2,2087.5" stroke="#808080" stroke-width="9.2" />
<path d="M1352.4,2098.7 1355.4,2098.7 1358.4,2098.7 1361.4,2098.7 1364.4,2098.7 1367.4,2098.7 1370.4,2098.6 1373.4,2098.6 1376.4,2098.6 1379.4,2098.6 1382.4,2098.6 1385.4,2098.5 1388.4,2098.5 1391.4,2098.5 1394.4,2098.5 1397.4,2098.4 1400.4,2098.4 1403.4,2098.4 1406.4,2098.4 1409.4,2098.3 1412.4,2098.3 1415.4,2098.3 1418.4,2098.2 1421.4,2098.2 1424.4,2098.2 1427.4,2098.1 1430.4,2098.1 1433.4,2098 1436.4,2098 1439.4,2097.9 1442.4,2097.9 1445.4,2097.8 1448.4,2097.8 1451.4,2097.7 1454.4,2097.7 1457.4,2097.6 1460.4,2097.5 1463.4,2097.5 1466.4,2097.4 1469.4,2097.3 1472.4,2097.2 1475.4,2097.1 1478.4,2097 1481.4,2096.9 1484.4,2096.8 1487.4,2096.7 1490.4,2096.6 1493.4,2096.5 1496.4,2096.3 1499.4,2096.2 1502.4,2096 1505.4,2095.9 1508.4,2095.7 1511.4,2095.5 1514.4,2095.3 1517.4,2095 1520.4,2094.8 1523.4,2094.5 1526.4,2094.3 1529.4,2093.9 1532.4,2093.6 1535.4,2093.2 1538.4,2092.9 1541.4,2092.4 1544.4,2092 1547.4,2091.4 1550.4,2090.9 1553.4,2090.3 1556.4,2089.6 1559.4,2088.9 1562.4,2088.1 1565.4,2087.2 1568.4,2086.3 1571.4,2085.2 1574.4,2084.1 1577.4,2083 1580.4,2081.7 1583.4,2080.4 1586.4,2079 1589.4,2077.6 1592.4,2076.2 1595.4,2074.9 1598.4,2073.7 1601.4,2072.6 1604.4,2071.7 1607.4,2071.1 1610.4,2070.8 1613.4,2070.8 1616.4,2071.2 1619.4,2071.8 1622.4,2072.7 1625.4,2073.8 1628.4,2075 1631.4,2076.3 1634.4,2077.7 1637.4,2079.1 1640.4,2080.5 1643.4,2081.8 1646.4,2083 1649.4,2084.2 1652.4,2085.3 1655.4,2086.3 1658.4,2087.3 1661.4,2088.1 1664.4,2088.9 1667.4,2089.6 1670.4,2090.3 1673.4,2090.9 1676.4,2091.5 1679.4,2092 1682.4,2092.5 1685.4,2092.9 1688.4,2093.3 1691.4,2093.6 1694.4,2094 1697.4,2094.3 1700.4,2094.6 1703.4,2094.8 1706.4,2095.1 1709.4,2095.3 1712.4,2095.5 1715.4,2095.7 1718.4,2095.9 1721.4,2096 1724.4,2096.2 1727.4,2096.3 1730.4,2096.5 1733.4,2096.6 1736.4,2096.7 1739.4,2096.8 1742.4,2096.9 1745.4,2097 1748.4,2097.1 1751.4,2097.2 1754.4,2097.3 1757.4,2097.4 1760.4,2097.5 1763.4,2097.5 1766.4,2097.6 1769.4,2097.7 1772.4,2097.7 1775.4,2097.8 1778.4,2097.8 1781.4,2097.9 1784.4,2097.9 1787.4,2098 1790.4,2098 1793.4,2098.1 1796.4,2098.1 1799.4,2098.2 1802.4,2098.2 1805.4,2098.2 1808.4,2098.3 1811.4,2098.3 1814.4,2098.3 1817.4,2098.4 1820.4,2098.4 1823.4,2098.4 1826.4,2098.4 1829.4,2098.5 1832.4,2098.5 1835.4,2098.5 1838.4,2098.5 1841.4,2098.6 1844.4,2098.6 1847.4,2098.6 1850.4,2098.6 1853.4,2098.6 1856.4,2098.7 1859.4,2098.7 1862.4,2098.7 1865.4,2098.7 1868.4,2098.7 1871.4,2098.7 1874.4,2098.8 1877.4,2098.8 1880.4,2098.8 1883.4,2098.8 1886.4,2098.8 1889.4,2098.8 1892.4,2098.8 1895.4,2098.8 1898.4,2098.9 1901.4,2098.9 1904.4,2098.9 1907.4,2098.9 1910.4,2098.9 1913.4,2098.9 1916.4,2098.9 1919.4,2098.9 1922.4,2098.9 1925.4,2098.9 1928.4,2099 1931.4,2099 1934.4,2099 1937.4,2099 1940.4,2099 1943.4,2099 1946.4,2099 1949.4,2099 1952.4,2099 1955.4,2099 1958.4,2099 1961.4,2099 1964.4,2099 1967.4,2099 1970.4,2099 1973.4,2099.1 1976.4,2099.1 1979.4,2099.1 1982.4,2099.1 1985.4,2099.1 1988.4,2099.1 1991.4,2099.1 1994.4,2099.1 1997.4,2099.1 2000.4,2099.1 2003.4,2099.1 2006.4,2099.1 2009.4,2099.1 2012.4,2099.1 2015.4,2099.1 2018.4,2099.1 2021.4,2099.1 2024.4,2099.1 2027.4,2099.1 2030.4,2099.1 2033.4,2099.1 2036.4,2099.1 2039.4,2099.2 2042.4,2099.2 2045.4,2099.2 2048.4,2099.2 2051.4,2099.2 2054.4,2099.2 2057.4,2099.2 2060.4,2099.2 2063.4,2099.2 2066.4,2099.2 2069.4,2099.2 2072.4,2099.2 2075.4,2099.2 2078.4,2099.2 2081.4,2099.2 2084.4,2099.2 2087.4,2099.2 2090.4,2099.2 2093.4,2099.2 2096.4,2099.2 2099.4,2099.2 2102.4,2099.2 2105.4,2099.2 2108.4,2099.2 2111.4,2099.2 2114.4,2099.2 2117.4,2099.2 2120.4,2099.2 2123.4,2099.2 2126.4,2099.2 2129.4,2099.2 2132.4,2099.2 2135.4,2099.2 2138.4,2099.2 2141.4,2099.2 2144.4,2099.2 2147.4,2099.2 2150.4,2099.2 2153.4,2099.2 2156.4,2099.2 2159.4,2099.2 2162.4,2099.2 2165.4,2099.3 2168.4,2099.3 2171.4,2099.3 2174.4,2099.3 2177.4,2099.3 2180.4,2099.3 2183.4,2099.3 2186.4,2099.3 2189.4,2099.3 2192.4,2099.3 2195.4,2099.3 2198.4,2099.3 2201.4,2099.3 2204.4,2099.3 2207.4,2099.3 2210.4,2099.3 2213.4,2099.3 2216.4,2099.3 2219.4,2099.3 2222.4,2099.3 2225.4,2099.3 2228.4,2099.3 2231.4,2099.3 2234.4,2099.3 2237.4,2099.3 2240.4,2099.3 2243.4,2099.3 2246.4,2099.3 2249.4,2099.3 2252.4,2099.3 2255.4,2099.3 2258.4,2099.3 2261.4,2099.3 2264.4,2099.3 2267.4,2099.3 2270.4,2099.3 2273.4,2099.3 2276.4,2099.3 2279.4,2099.3 2282.4,2099.3 2285.4,2099.3 2288.4,2099.3 2291.4,2099.3 2294.4,2099.3 2297.4,2099.3 2300.4,2099.3 2303.4,2099.3 2306.4,2099.3 2309.4,2099.3 2312.4,2099.3 2315.4,2099.3 2318.4,2099.3 2321.4,2099.3 2324.4,2099.3 2327.4,2099.3 2330.4,2099.3 2333.4,2099.3 2336.4,2099.3 2339.4,2099.3 2342.4,2099.3 2345.4,2099.3 2348.4,2099.3 2351.4,2099.3 2354.4,2099.3 2357.4,2099.3 2360.4,2099.3 2363.4,2099.3 2366.4,2099.3 2369.4,2099.3 2372.4,2099.3 2375.4,2099.3 2378.4,2099.3 2381.4,2099.3 2384.4,2099.3 2387.4,2099.3 2390.4,2099.3 2393.4,2099.3 2396.4,2099.3 2399.4,2099.3 2402.4,2099.3 2405.4,2099.3 2408.4,2099.3 2411.4,2099.3 2414.4,2099.3 2417.4,2099.3 2420.4,2099.3 2423.4,2099.3 2426.4,2099.3 2429.4,2099.3 2432.4,2099.3 2435.4,2099.3 2438.4,2099.3 2441.4,2099.3 2444.4,2099.3 2447.4,2099.3 2450.4,2099.3 2453.4,2099.3 2456.4,2099.3 2459.4,2099.3 2462.4,2099.3 2465.4,2099.3" stroke="#00ff00" stroke-width="5.0" />
<path d="M1352.4,2098.8 1355.4,2098.8 1358.4,2098.8 1361.4,2098.8 1364.4,2098.8 1367.4,2098.8 1370.4,2098.8 1373.4,2098.8 1376.4,2098.8 1379.4,2098.8 1382.4,2098.8 1385.4,2098.7 1388.4,2098.7 1391.4,2098.7 1394.4,2098.7 1397.4,2098.7 1400.4,2098.7 1403.4,2098.7 1406.4,2098.7 1409.4,2098.7 1412.4,2098.7 1415.4,2098.7 1418.4,2098.6 1421.4,2098.6 1424.4,2098.6 1427.4,2098.6 1430.4,2098.6 1433.4,2098.6 1436.4,2098.6 1439.4,2098.6 1442.4,2098.6 1445.4,2098.5 1448.4,2098.5 1451.4,2098.5 1454.4,2098.5 1457.4,2098.5 1460.4,2098.5 1463.4,2098.5 1466.4,2098.4 1469.4,2098.4 1472.4,2098.4 1475.4,2098.4 1478.4,2098.4 1481.4,2098.4 1484.4,2098.3 1487.4,2098.3 1490.4,2098.3 1493.4,2098.3 1496.4,2098.3 1499.4,2098.2 1502.4,2098.2 1505.4,2098.2 1508.4,2098.2 1511.4,2098.2 1514.4,2098.1 1517.4,2098.1 1520.4,2098.1 1523.4,2098.1 1526.4,2098 1529.4,2098 1532.4,2098 1535.4,2098 1538.4,2097.9 1541.4,2097.9 1544.4,2097.9 1547.4,2097.9 1550.4,2097.8 1553.4,2097.8 1556.4,2097.8 1559.4,2097.7 1562.4,2097.7 1565.4,2097.6 1568.4,2097.6 1571.4,2097.6 1574.4,2097.5 1577.4,2097.5 1580.4,2097.4 1583.4,2097.4 1586.4,2097.4 1589.4,2097.3 1592.4,2097.3 1595.4,2097.2 1598.4,2097.2 1601.4,2097.1 1604.4,2097 1607.4,2097 1610.4,2096.9 1613.4,2096.9 1616.4,2096.8 1619.4,2096.7 1622.4,2096.7 1625.4,2096.6 1628.4,2096.5 1631.4,2096.4 1634.4,2096.3 1637.4,2096.3 1640.4,2096.2 1643.4,2096.1 1646.4,2096 1649.4,2095.9 1652.4,2095.8 1655.4,2095.7 1658.4,2095.5 1661.4,2095.4 1664.4,2095.3 1667.4,2095.2 1670.4,2095 1673.4,2094.9 1676.4,2094.7 1679.4,2094.6 1682.4,2094.4 1685.4,2094.2 1688.4,2094 1691.4,2093.8 1694.4,2093.6 1697.4,2093.4 1700.4,2093.2 1703.4,2092.9 1706.4,2092.7 1709.4,2092.4 1712.4,2092.1 1715.4,2091.8 1718.4,2091.5 1721.4,2091.2 1724.4,2090.8 1727.4,2090.4 1730.4,2090 1733.4,2089.6 1736.4,2089.1 1739.4,2088.6 1742.4,2088.1 1745.4,2087.5 1748.4,2086.9 1751.4,2086.3 1754.4,2085.6 1757.4,2084.9 1760.4,2084.1 1763.4,2083.3 1766.4,2082.4 1769.4,2081.4 1772.4,2080.4 1775.4,2079.4 1778.4,2078.2 1781.4,2077 1784.4,2075.7 1787.4,2074.3 1790.4,2072.8 1793.4,2071.3 1796.4,2069.7 1799.4,2068 1802.4,2066.3 1805.4,2064.5 1808.4,2062.8 1811.4,2061 1814.4,2059.3 1817.4,2057.6 1820.4,2056.1 1823.4,2054.7 1826.4,2053.5 1829.4,2052.5 1832.4,2051.8 1835.4,2051.3 1838.4,2051.2 1841.4,2051.4 1844.4,2051.9 1847.4,2052.6 1850.4,2053.6 1853.4,2054.9 1856.4,2056.3 1859.4,2057.8 1862.4,2059.5 1865.4,2061.2 1868.4,2063 1871.4,2064.8 1874.4,2066.5 1877.4,2068.2 1880.4,2069.9 1883.4,2071.5 1886.4,2073 1889.4,2074.5 1892.4,2075.8 1895.4,2077.1 1898.4,2078.4 1901.4,2079.5 1904.4,2080.6 1907.4,2081.6 1910.4,2082.5 1913.4,2083.4 1916.4,2084.2 1919.4,2085 1922.4,2085.7 1925.4,2086.4 1928.4,2087 1931.4,2087.6 1934.4,2088.2 1937.4,2088.7 1940.4,2089.2 1943.4,2089.6 1946.4,2090.1 1949.4,2090.5 1952.4,2090.9 1955.4,2091.2 1958.4,2091.6 1961.4,2091.9 1964.4,2092.2 1967.4,2092.5 1970.4,2092.7 1973.4,2093 1976.4,2093.2 1979.4,2093.4 1982.4,2093.7 1985.4,2093.9 1988.4,2094.1 1991.4,2094.2 1994.4,2094.4 1997.4,2094.6 2000.4,2094.8 2003.4,2094.9 2006.4,2095 2009.4,2095.2 2012.4,2095.3 2015.4,2095.4 2018.4,2095.6 2021.4,2095.7 2024.4,2095.8 2027.4,2095.9 2030.4,2096 2033.4,2096.1 2036.4,2096.2 2039.4,2096.3 2042.4,2096.4 2045.4,2096.4 2048.4,2096.5 2051.4,2096.6 2054.4,2096.7 2057.4,2096.7 2060.4,2096.8 2063.4,2096.9 2066.4,2096.9 2069.4,2097 2072.4,2097.1 2075.4,2097.1 2078.4,2097.2 2081.4,2097.2 2084.4,2097.3 2087.4,2097.3 2090.4,2097.4 2093.4,2097.4 2096.4,2097.5 2099.4,2097.5 2102.4,2097.5 2105.4,2097.6 2108.4,2097.6 2111.4,2097.7 2114.4,2097.7 2117.4,2097.7 2120.4,2097.8 2123.4,2097.8 2126.4,2097.8 2129.4,2097.9 2132.4,2097.9 2135.4,2097.9 2138.4,2097.9 2141.4,2098 2144.4,2098 2147.4,2098 2150.4,2098 2153.4,2098.1 2156.4,2098.1 2159.4,2098.1 2162.4,2098.1 2165.4,2098.2 2168.4,2098.2 2171.4,2098.2 2174.4,2098.2 2177.4,2098.3 2180.4,2098.3 2183.4,2098.3 2186.4,2098.3 2189.4,2098.3 2192.4,2098.3 2195.4,2098.4 2198.4,2098.4 2201.4,2098.4 2204.4,2098.4 2207.4,2098.4 2210.4,2098.4 2213.4,2098.5 2216.4,2098.5 2219.4,2098.5 2222.4,2098.5 2225.4,2098.5 2228.4,2098.5 2231.4,2098.5 2234.4,2098.6 2237.4,2098.6 2240.4,2098.6 2243.4,2098.6 2246.4,2098.6 2249.4,2098.6 2252.4,2098.6 2255.4,2098.6 2258.4,2098.6 2261.4,2098.7 2264.4,2098.7 2267.4,2098.7 2270.4,2098.7 2273.4,2098.7 2276.4,2098.7 2279.4,2098.7 2282.4,2098.7 2285.4,2098.7 2288.4,2098.7 2291.4,2098.7 2294.4,2098.8 2297.4,2098.8 2300.4,2098.8 2303.4,2098.8 2306.4,2098.8 2309.4,2098.8 2312.4,2098.8 2315.4,2098.8 2318.4,2098.8 2321.4,2098.8 2324.4,2098.8 2327.4,2098.8 2330.4,2098.8 2333.4,2098.9 2336.4,2098.9 2339.4,2098.9 2342.4,2098.9 2345.4,2098.9 2348.4,2098.9 2351.4,2098.9 2354.4,2098.9 2357.4,2098.9 2360.4,2098.9 2363.4,2098.9 2366.4,2098.9 2369.4,2098.9 2372.4,2098.9 2375.4,2098.9 2378.4,2098.9 2381.4,2098.9 2384.4,2099 2387.4,2099 2390.4,2099 2393.4,2099 2396.4,2099 2399.4,2099 2402.4,2099 2405.4,2099 2408.4,2099 2411.4,2099 2414.4,2099 2417.4,2099 2420.4,2099 2423.4,2099 2426.4,2099 2429.4,2099 2432.4,2099 2435.4,2099 2438.4,2099 2441.4,2099 2444.4,2099 2447.4,2099 2450.4,2099 2453.4,2099 2456.4,2099 2459.4,2099.1 2462.4,2099.1 2465.4,2099.1" stroke="#00ff00" stroke-width="5.0" />
<path d="M1352.4,2098.6 1355.4,2098.6 1358.4,2098.6 1361.4,2098.6 1364.4,2098.5 1367.4,2098.5 1370.4,2098.5 1373.4,2098.5 1376.4,2098.5 1379.4,2098.5 1382.4,2098.5 1385.4,2098.5 1388.4,2098.5 1391.4,2098.5 1394.4,2098.4 1397.4,2098.4 1400.4,2098.4 1403.4,2098.4 1406.4,2098.4 1409.4,2098.4 1412.4,2098.4 1415.4,2098.4 1418.4,2098.4 1421.4,2098.3 1424.4,2098.3 1427.4,2098.3 1430.4,2098.3 1433.4,2098.3 1436.4,2098.3 1439.4,2098.3 1442.4,2098.3 1445.4,2098.2 1448.4,2098.2 1451.4,2098.2 1454.4,2098.2 1457.4,2098.2 1460.4,2098.2 1463.4,2098.2 1466.4,2098.1 1469.4,2098.1 1472.4,2098.1 1475.4,2098.1 1478.4,2098.1 1481.4,2098 1484.4,2098 1487.4,2098 1490.4,2098 1493.4,2098 1496.4,2098 1499.4,2097.9 1502.4,2097.9 1505.4,2097.9 1508.4,2097.9 1511.4,2097.9 1514.4,2097.8 1517.4,2097.8 1520.4,2097.8 1523.4,2097.8 1526.4,2097.7 1529.4,2097.7 1532.4,2097.7 1535.4,2097.7 1538.4,2097.6 1541.4,2097.6 1544.4,2097.6 1547.4,2097.6 1550.4,2097.5 1553.4,2097.5 1556.4,2097.5 1559.4,2097.4 1562.4,2097.4 1565.4,2097.4 1568.4,2097.3 1571.4,2097.3 1574.4,2097.3 1577.4,2097.2 1580.4,2097.2 1583.4,2097.2 1586.4,2097.1 1589.4,2097.1 1592.4,2097 1595.4,2097 1598.4,2097 1601.4,2096.9 1604.4,2096.9 1607.4,2096.8 1610.4,2096.8 1613.4,2096.7 1616.4,2096.7 1619.4,2096.6 1622.4,2096.6 1625.4,2096.5 1628.4,2096.5 1631.4,2096.4 1634.4,2096.3 1637.4,2096.3 1640.4,2096.2 1643.4,2096.2 1646.4,2096.1 1649.4,2096 1652.4,2095.9 1655.4,2095.9 1658.4,2095.8 1661.4,2095.7 1664.4,2095.6 1667.4,2095.6 1670.4,2095.5 1673.4,2095.4 1676.4,2095.3 1679.4,2095.2 1682.4,2095.1 1685.4,2095 1688.4,2094.9 1691.4,2094.8 1694.4,2094.7 1697.4,2094.5 1700.4,2094.4 1703.4,2094.3 1706.4,2094.2 1709.4,2094 1712.4,2093.9 1715.4,2093.7 1718.4,2093.6 1721.4,2093.4 1724.4,2093.3 1727.4,2093.1 1730.4,2092.9 1733.4,2092.7 1736.4,2092.5 1739.4,2092.3 1742.4,2092.1 1745.4,2091.9 1748.4,2091.6 1751.4,2091.4 1754.4,2091.1 1757.4,2090.9 1760.4,2090.6 1763.4,2090.3 1766.4,2090 1769.4,2089.7 1772.4,2089.3 1775.4,2089 1778.4,2088.6 1781.4,2088.2 1784.4,2087.8 1787.4,2087.3 1790.4,2086.8 1793.4,2086.4 1796.4,2085.8 1799.4,2085.3 1802.4,2084.7 1805.4,2084.1 1808.4,2083.4 1811.4,2082.7 1814.4,2082 1817.4,2081.2 1820.4,2080.3 1823.4,2079.4 1826.4,2078.4 1829.4,2077.4 1832.4,2076.3 1835.4,2075.1 1838.4,2073.9 1841.4,2072.5 1844.4,2071 1847.4,2069.5 1850.4,2067.8 1853.4,2066 1856.4,2064 1859.4,2061.9 1862.4,2059.6 1865.4,2057.2 1868.4,2054.6 1871.4,2051.7 1874.4,2048.7 1877.4,2045.4 1880.4,2041.9 1883.4,2038.2 1886.4,2034.2 1889.4,2030 1892.4,2025.5 1895.4,2020.8 1898.4,2016 1901.4,2011 1904.4,2006 1907.4,2001.1 1910.4,1996.2 1913.4,1991.7 1916.4,1987.5 1919.4,1983.9 1922.4,1980.9 1925.4,1978.8 1928.4,1977.5 1931.4,1977.2 1934.4,1977.9 1937.4,1979.5 1940.4,1982 1943.4,1985.2 1946.4,1989.1 1949.4,1993.4 1952.4,1998.1 1955.4,2003 1958.4,2008 1961.4,2013 1964.4,2018 1967.4,2022.7 1970.4,2027.3 1973.4,2031.7 1976.4,2035.8 1979.4,2039.7 1982.4,2043.3 1985.4,2046.8 1988.4,2049.9 1991.4,2052.9 1994.4,2055.6 1997.4,2058.2 2000.4,2060.6 2003.4,2062.8 2006.4,2064.8 2009.4,2066.7 2012.4,2068.5 2015.4,2070.1 2018.4,2071.6 2021.4,2073.1 2024.4,2074.4 2027.4,2075.6 2030.4,2076.8 2033.4,2077.8 2036.4,2078.8 2039.4,2079.8 2042.4,2080.7 2045.4,2081.5 2048.4,2082.3 2051.4,2083 2054.4,2083.7 2057.4,2084.3 2060.4,2084.9 2063.4,2085.5 2066.4,2086 2069.4,2086.6 2072.4,2087 2075.4,2087.5 2078.4,2087.9 2081.4,2088.3 2084.4,2088.7 2087.4,2089.1 2090.4,2089.5 2093.4,2089.8 2096.4,2090.1 2099.4,2090.4 2102.4,2090.7 2105.4,2091 2108.4,2091.2 2111.4,2091.5 2114.4,2091.7 2117.4,2092 2120.4,2092.2 2123.4,2092.4 2126.4,2092.6 2129.4,2092.8 2132.4,2093 2135.4,2093.2 2138.4,2093.3 2141.4,2093.5 2144.4,2093.6 2147.4,2093.8 2150.4,2093.9 2153.4,2094.1 2156.4,2094.2 2159.4,2094.3 2162.4,2094.5 2165.4,2094.6 2168.4,2094.7 2171.4,2094.8 2174.4,2094.9 2177.4,2095 2180.4,2095.1 2183.4,2095.2 2186.4,2095.3 2189.4,2095.4 2192.4,2095.5 2195.4,2095.6 2198.4,2095.7 2201.4,2095.7 2204.4,2095.8 2207.4,2095.9 2210.4,2096 2213.4,2096 2216.4,2096.1 2219.4,2096.2 2222.4,2096.2 2225.4,2096.3 2228.4,2096.4 2231.4,2096.4 2234.4,2096.5 2237.4,2096.5 2240.4,2096.6 2243.4,2096.6 2246.4,2096.7 2249.4,2096.7 2252.4,2096.8 2255.4,2096.8 2258.4,2096.9 2261.4,2096.9 2264.4,2097 2267.4,2097 2270.4,2097.1 2273.4,2097.1 2276.4,2097.1 2279.4,2097.2 2282.4,2097.2 2285.4,2097.2 2288.4,2097.3 2291.4,2097.3 2294.4,2097.3 2297.4,2097.4 2300.4,2097.4 2303.4,2097.4 2306.4,2097.5 2309.4,2097.5 2312.4,2097.5 2315.4,2097.6 2318.4,2097.6 2321.4,2097.6 2324.4,2097.6 2327.4,2097.7 2330.4,2097.7 2333.4,2097.7 2336.4,2097.7 2339.4,2097.8 2342.4,2097.8 2345.4,2097.8 2348.4,2097.8 2351.4,2097.9 2354.4,2097.9 2357.4,2097.9 2360.4,2097.9 2363.4,2097.9 2366.4,2098 2369.4,2098 2372.4,2098 2375.4,2098 2378.4,2098 2381.4,2098.1 2384.4,2098.1 2387.4,2098.1 2390.4,2098.1 2393.4,2098.1 2396.4,2098.1 2399.4,2098.2 2402.4,2098.2 2405.4,2098.2 2408.4,2098.2 2411.4,2098.2 2414.4,2098.2 2417.4,2098.2 2420.4,2098.3 2423.4,2098.3 2426.4,2098.3 2429.4,2098.3 2432.4,2098.3 2435.4,2098.3 2438.4,2098.3 2441.4,2098.4 2444.4,2098.4 2447.4,2098.4 2450.4,2098.4 2453.4,2098.4 2456.4,2098.4 2459.4,2098.4 2462.4,2098.4 2465.4,2098.4" stroke="#00ff00" stroke-width="5.0" />
<path d="M1352.4,2098.9 1355.4,2098.8 1358.4,2098.8 1361.4,2098.8 1364.4,2098.8 1367.4,2098.8 1370.4,2098.8 1373.4,2098.8 1376.4,2098.8 1379.4,2098.8 1382.4,2098.8 1385.4,2098.8 1388.4,2098.8 1391.4,2098.8 1394.4,2098.8 1397.4,2098.8 1400.4,2098.8 1403.4,2098.8 1406.4,2098.8 1409.4,2098.8 1412.4,2098.7 1415.4,2098.7 1418.4,2098.7 1421.4,2098.7 1424.4,2098.7 1427.4,2098.7 1430.4,2098.7 1433.4,2098.7 1436.4,2098.7 1439.4,2098.7 1442.4,2098.7 1445.4,2098.7 1448.4,2098.7 1451.4,2098.7 1454.4,2098.6 1457.4,2098.6 1460.4,2098.6 1463.4,2098.6 1466.4,2098.6 1469.4,2098.6 1472.4,2098.6 1475.4,2098.6 1478.4,2098.6 1481.4,2098.6 1484.4,2098.6 1487.4,2098.6 1490.4,2098.5 1493.4,2098.5 1496.4,2098.5 1499.4,2098.5 1502.4,2098.5 1505.4,2098.5 1508.4,2098.5 1511.4,2098.5 1514.4,2098.5 1517.4,2098.5 1520.4,2098.4 1523.4,2098.4 1526.4,2098.4 1529.4,2098.4 1532.4,2098.4 1535.4,2098.4 1538.4,2098.4 1541.4,2098.4 1544.4,2098.4 1547.4,2098.3 1550.4,2098.3 1553.4,2098.3 1556.4,2098.3 1559.4,2098.3 1562.4,2098.3 1565.4,2098.3 1568.4,2098.2 1571.4,2098.2 1574.4,2098.2 1577.4,2098.2 1580.4,2098.2 1583.4,2098.2 1586.4,2098.1 1589.4,2098.1 1592.4,2098.1 1595.4,2098.1 1598.4,2098.1 1601.4,2098.1 1604.4,2098 1607.4,2098 1610.4,2098 1613.4,2098 1616.4,2098 1619.4,2097.9 1622.4,2097.9 1625.4,2097.9 1628.4,2097.9 1631.4,2097.9 1634.4,2097.8 1637.4,2097.8 1640.4,2097.8 1643.4,2097.8 1646.4,2097.7 1649.4,2097.7 1652.4,2097.7 1655.4,2097.7 1658.4,2097.6 1661.4,2097.6 1664.4,2097.6 1667.4,2097.6 1670.4,2097.5 1673.4,2097.5 1676.4,2097.5 1679.4,2097.4 1682.4,2097.4 1685.4,2097.4 1688.4,2097.3 1691.4,2097.3 1694.4,2097.3 1697.4,2097.2 1700.4,2097.2 1703.4,2097.1 1706.4,2097.1 1709.4,2097.1 1712.4,2097 1715.4,2097 1718.4,2096.9 1721.4,2096.9 1724.4,2096.8 1727.4,2096.8 1730.4,2096.7 1733.4,2096.7 1736.4,2096.6 1739.4,2096.6 1742.4,2096.5 1745.4,2096.5 1748.4,2096.4 1751.4,2096.3 1754.4,2096.3 1757.4,2096.2 1760.4,2096.1 1763.4,2096.1 1766.4,2096 1769.4,2095.9 1772.4,2095.9 1775.4,2095.8 1778.4,2095.7 1781.4,2095.6 1784.4,2095.5 1787.4,2095.4 1790.4,2095.3 1793.4,2095.2 1796.4,2095.1 1799.4,2095 1802.4,2094.9 1805.4,2094.8 1808.4,2094.7 1811.4,2094.6 1814.4,2094.4 1817.4,2094.3 1820.4,2094.2 1823.4,2094 1826.4,2093.9 1829.4,2093.7 1832.4,2093.6 1835.4,2093.4 1838.4,2093.2 1841.4,2093 1844.4,2092.9 1847.4,2092.7 1850.4,2092.4 1853.4,2092.2 1856.4,2092 1859.4,2091.8 1862.4,2091.5 1865.4,2091.2 1868.4,2091 1871.4,2090.7 1874.4,2090.4 1877.4,2090 1880.4,2089.7 1883.4,2089.3 1886.4,2088.9 1889.4,2088.5 1892.4,2088.1 1895.4,2087.7 1898.4,2087.2 1901.4,2086.7 1904.4,2086.1 1907.4,2085.6 1910.4,2084.9 1913.4,2084.3 1916.4,2083.6 1919.4,2082.8 1922.4,2082 1925.4,2081.1 1928.4,2080.2 1931.4,2079.2 1934.4,2078.1 1937.4,2076.9 1940.4,2075.7 1943.4,2074.3 1946.4,2072.8 1949.4,2071.1 1952.4,2069.3 1955.4,2067.3 1958.4,2065.2 1961.4,2062.8 1964.4,2060.1 1967.4,2057.2 1970.4,2053.9 1973.4,2050.3 1976.4,2046.2 1979.4,2041.6 1982.4,2036.4 1985.4,2030.5 1988.4,2023.8 1991.4,2016.1 1994.4,2007.3 1997.4,1997.1 2000.4,1985.3 2003.4,1971.6 2006.4,1955.5 2009.4,1936.6 2012.4,1914.3 2015.4,1888.2 2018.4,1857.6 2021.4,1822 2024.4,1781.3 2027.4,1735.9 2030.4,1687.4 2033.4,1639 2036.4,1595.9 2039.4,1564.3 2042.4,1550.1 2045.4,1556.3 2048.4,1581.5 2051.4,1620.8 2054.4,1667.7 2057.4,1716.7 2060.4,1763.6 2063.4,1806.3 2066.4,1844 2069.4,1876.5 2072.4,1904.4 2075.4,1928.1 2078.4,1948.3 2081.4,1965.4 2084.4,1980.1 2087.4,1992.6 2090.4,2003.4 2093.4,2012.8 2096.4,2020.9 2099.4,2027.9 2102.4,2034.1 2105.4,2039.6 2108.4,2044.4 2111.4,2048.7 2114.4,2052.5 2117.4,2055.9 2120.4,2059 2123.4,2061.8 2126.4,2064.2 2129.4,2066.5 2132.4,2068.5 2135.4,2070.4 2138.4,2072.1 2141.4,2073.7 2144.4,2075.1 2147.4,2076.4 2150.4,2077.6 2153.4,2078.8 2156.4,2079.8 2159.4,2080.8 2162.4,2081.7 2165.4,2082.5 2168.4,2083.3 2171.4,2084 2174.4,2084.7 2177.4,2085.3 2180.4,2085.9 2183.4,2086.5 2186.4,2087 2189.4,2087.5 2192.4,2087.9 2195.4,2088.4 2198.4,2088.8 2201.4,2089.2 2204.4,2089.6 2207.4,2089.9 2210.4,2090.2 2213.4,2090.5 2216.4,2090.8 2219.4,2091.1 2222.4,2091.4 2225.4,2091.7 2228.4,2091.9 2231.4,2092.1 2234.4,2092.4 2237.4,2092.6 2240.4,2092.8 2243.4,2093 2246.4,2093.2 2249.4,2093.3 2252.4,2093.5 2255.4,2093.7 2258.4,2093.8 2261.4,2094 2264.4,2094.1 2267.4,2094.3 2270.4,2094.4 2273.4,2094.5 2276.4,2094.6 2279.4,2094.8 2282.4,2094.9 2285.4,2095 2288.4,2095.1 2291.4,2095.2 2294.4,2095.3 2297.4,2095.4 2300.4,2095.5 2303.4,2095.6 2306.4,2095.7 2309.4,2095.7 2312.4,2095.8 2315.4,2095.9 2318.4,2096 2321.4,2096 2324.4,2096.1 2327.4,2096.2 2330.4,2096.3 2333.4,2096.3 2336.4,2096.4 2339.4,2096.4 2342.4,2096.5 2345.4,2096.6 2348.4,2096.6 2351.4,2096.7 2354.4,2096.7 2357.4,2096.8 2360.4,2096.8 2363.4,2096.9 2366.4,2096.9 2369.4,2097 2372.4,2097 2375.4,2097 2378.4,2097.1 2381.4,2097.1 2384.4,2097.2 2387.4,2097.2 2390.4,2097.2 2393.4,2097.3 2396.4,2097.3 2399.4,2097.4 2402.4,2097.4 2405.4,2097.4 2408.4,2097.5 2411.4,2097.5 2414.4,2097.5 2417.4,2097.5 2420.4,2097.6 2423.4,2097.6 2426.4,2097.6 2429.4,2097.7 2432.4,2097.7 2435.4,2097.7 2438.4,2097.7 2441.4,2097.8 2444.4,2097.8 2447.4,2097.8 2450.4,2097.8 2453.4,2097.9 2456.4,2097.9 2459.4,2097.9 2462.4,2097.9 2465.4,2097.9" stroke="#00ff00" stroke-width="5.0" />
<line x1="1352.4" y1="2099.4" x2="2465.2" y2="2099.4" stroke="#00ff00" stroke-width="5.2"/>
<path d="M1626.9,1589 1621,1760 1614.8,1905 1610.3,2049" stroke="#c0c0c0" stroke-width="5.6" stroke-dasharray="17.5 13.2 1.2 13.2" stroke-dashoffset="0"/>
<path d="M1808,1457.6 1819,1635 1830.7,1846.5 1839.7,1997.5" stroke="#c0c0c0" stroke-width="5.6" stroke-dasharray="17.5 13.2 1.2 13.2" stroke-dashoffset="0"/>
<path d="M1881.4,1350.4 1900.1,1570.9 1915.2,1755.9 1931.8,1934" stroke="#c0c0c0" stroke-width="5.6" stroke-dasharray="17.5 13.2 1.2 13.2" stroke-dashoffset="0"/>
</g>
<g id="arrows">
<line x1="379.3" y1="152.5" x2="419.7" y2="181.4" stroke="#000" stroke-width="2.3"/>
<polygon points="445.7,200.0 412.5,187.9 423.6,172.5" fill="#000"/>
<line x1="534.8" y1="248.2" x2="497.9" y2="257.7" stroke="#000" stroke-width="2.3"/>
<polygon points="466.9,265.7 497.5,248.0 502.2,266.4" fill="#000"/>
<line x1="922.7" y1="617.6" x2="959.1" y2="654.6" stroke="#000" stroke-width="2.3"/>
<polygon points="981.6,677.4 951.0,659.8 964.5,646.5" fill="#000"/>
<line x1="1063.1" y1="667.4" x2="1031.3" y2="695.4" stroke="#000" stroke-width="2.3"/>
<polygon points="1007.3,716.6 1026.5,687.0 1039.1,701.2" fill="#000"/>
<line x1="424.6" y1="890.8" x2="460.2" y2="911.1" stroke="#000" stroke-width="2.3"/>
<polygon points="488.0,927.0 453.8,918.4 463.2,901.9" fill="#000"/>
<line x1="589.2" y1="1049.4" x2="532.4" y2="1010.2" stroke="#000" stroke-width="2.3"/>
<polygon points="506.1,992.0 539.5,1003.5 528.7,1019.1" fill="#000"/>
<line x1="933.3" y1="1366.5" x2="989.7" y2="1380.1" stroke="#000" stroke-width="2.3"/>
<polygon points="1020.8,1387.6 985.5,1388.9 990.0,1370.4" fill="#000"/>
<line x1="1106.9" y1="1379.5" x2="1068.7" y2="1357.4" stroke="#000" stroke-width="2.3"/>
<polygon points="1041.0,1341.4 1075.2,1350.2 1065.7,1366.6" fill="#000"/>
<line x1="934.8" y1="1828.0" x2="962.2" y2="1880.3" stroke="#000" stroke-width="2.3"/>
<polygon points="977.0,1908.6 952.8,1882.9 969.6,1874.1" fill="#000"/>
<line x1="1125.0" y1="1765.0" x2="1090.5" y2="1697.0" stroke="#000" stroke-width="2.3"/>
<polygon points="1076.0,1668.5 1099.9,1694.5 1082.9,1703.1" fill="#000"/>
<line x1="1967.5" y1="216.3" x2="1897.3" y2="257.2" stroke="#000" stroke-width="1.4"/>
<polygon points="1880.5,267.0 1896.2,251.2 1902.0,261.1" fill="#000"/>
<line x1="2015.8" y1="358.8" x2="1949.5" y2="398.8" stroke="#000" stroke-width="1.4"/>
<polygon points="1932.8,408.9 1948.2,392.9 1954.2,402.7" fill="#000"/>
<line x1="2064.0" y1="564.0" x2="2001.9" y2="591.6" stroke="#000" stroke-width="1.4"/>
<polygon points="1984.1,599.5 2001.4,585.5 2006.1,596.0" fill="#000"/>
</g>
<g id="labels" fill="#000">
<text x="160.2" y="107.2" font-size="76.5"  >(a)</text>
<text x="272.3" y="147.4" font-size="57.5"  >770.0</text>
<text x="536.6" y="267.2" font-size="57.5"  >772.0</text>
<text x="644.8" y="104.2" font-size="57.5"  >Solid line: 1.25 μm size</text>
<text x="643.8" y="195.7" font-size="57.5"  >Dashed line: 0.55 μm size</text>
<text x="827.3" y="607.9" font-size="57.5"  >946.0</text>
<text x="1065.1" y="638.7" font-size="57.5"  >950.5</text>
<text x="322.2" y="903.0" font-size="57.5"  >780.0</text>
<text x="590.1" y="1073.5" font-size="57.5"  >782.0</text>
<text x="141.5" y="1019.2" font-size="57.5"  >3.6μm thick</text>
<text x="139.2" y="1403.6" font-size="57.5"  >2.6μm thick</text>
<text x="138.8" y="1765.1" font-size="57.5"  >1.5μm thick</text>
<text x="134.0" y="2083.7" font-size="57.5"  >0.5μm thick</text>
<text x="801.6" y="1378.6" font-size="57.5"  >958.0</text>
<text x="1106.7" y="1413.9" font-size="57.5"  >960.5</text>
<text x="860.6" y="1784.8" font-size="57.5"  >944.5</text>
<text x="1104.4" y="1819.5" font-size="57.5"  >966.5</text>
<text x="1390.3" y="112.1" font-size="76.5"  >(b)</text>
<text x="1680.8" y="114.0" font-size="56.0"  >772.0</text>
<text x="1966.5" y="216.3" font-size="56.0"  >776.5</text>
<text x="2022.2" y="359.7" font-size="56.0"  >782.0</text>
<text x="1453.5" y="388.4" font-size="56.0"  >750.0</text>
<text x="2064.6" y="563.5" font-size="56.0"  >786.5</text>
<text x="1490.7" y="571.0" font-size="56.0"  >756.0</text>
<text x="1538.2" y="734.0" font-size="56.0"  >760.0</text>
<text x="1778.2" y="811.0" font-size="56.0"  >776.0</text>
<text x="2100.8" y="847.3" font-size="56.0"  >795.5</text>
<text x="1592.5" y="904.6" font-size="56.0"  >765.0</text>
<text x="1391.9" y="1246.3" font-size="76.5"  >(c)</text>
<text x="1969.7" y="1216.0" font-size="56.0"  >950.5</text>
<text x="2001.4" y="1318.7" font-size="56.0"  >955.5</text>
<text x="1750.6" y="1352.0" font-size="56.0"  >935.0</text>
<text x="2024.0" y="1403.3" font-size="56.0"  >960.5</text>
<text x="1675.1" y="1453.0" font-size="56.0"  >920.0</text>
<text x="2060.3" y="1528.6" font-size="56.0"  >966.5</text>
<text x="1486.9" y="1578.4" font-size="56.0"  >885.5</text>
<text x="1851.4" y="1911.4" font-size="56.0"  >944.5</text>
<text x="1692.5" y="2011.0" font-size="56.0"  >926.5</text>
<text x="1458.2" y="2036.7" font-size="56.0"  >881.5</text>
<text x="82.2" y="2234.0" font-size="63.5"  >700</text>
<text x="540.8" y="2234.0" font-size="63.5"  >800</text>
<text x="787.9" y="2234.0" font-size="63.5"  >900</text>
<text x="1114.5" y="2234.0" font-size="63.5"  >1000</text>
<text x="1530.5" y="1103.6" font-size="57"  >750</text>
<text x="2088.2" y="1103.6" font-size="57"  >800</text>
<text x="1660.4" y="2217.0" font-size="54.5" class="ss" >900</text>
<text x="2152.1" y="2217.0" font-size="54.5" class="ss" >1000</text>
<text x="1006.7" y="2309" font-size="76.6">Raman shift (cm<tspan font-size="44" dy="-37">-1</tspan><tspan dy="37">)</tspan></text>
<text transform="translate(83.7,1374.9) rotate(-90)" font-size="76.7">Raman intensity (a.u.)</text>
</g>
</svg>
</body></html>
